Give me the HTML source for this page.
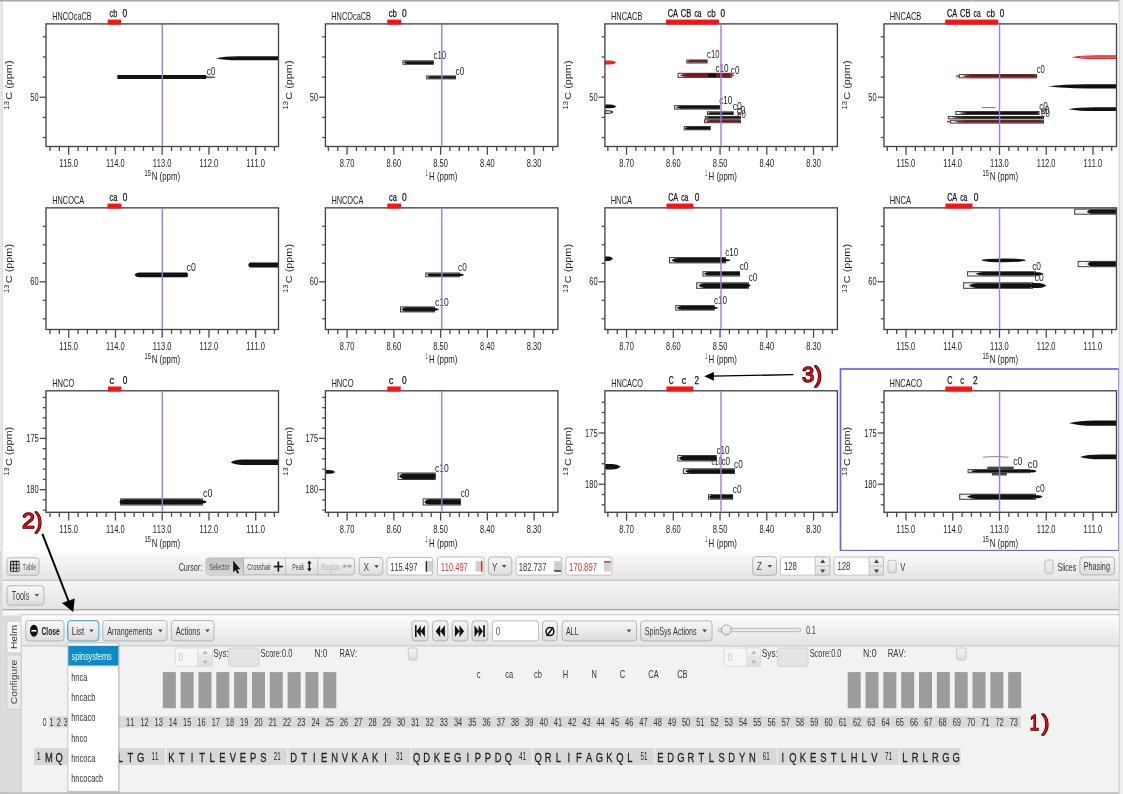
<!DOCTYPE html>
<html><head><meta charset="utf-8"><title>Spectra viewer</title>
<style>html,body{margin:0;padding:0;background:#fff;overflow:hidden}svg{display:block}text{font-family:'Liberation Sans', Arial, sans-serif;font-kerning:none}</style>
</head><body>
<svg width="1123" height="794" viewBox="0 0 1123 794" font-family="'Liberation Sans', Arial, sans-serif"><defs>
<linearGradient id="tb" x1="0" y1="0" x2="0" y2="1"><stop offset="0" stop-color="#fcfcfc"/><stop offset="1" stop-color="#e4e4e4"/></linearGradient>
<linearGradient id="tb2" x1="0" y1="0" x2="0" y2="1"><stop offset="0" stop-color="#f6f6f6"/><stop offset="1" stop-color="#e3e3e3"/></linearGradient>
<linearGradient id="btn" x1="0" y1="0" x2="0" y2="1"><stop offset="0" stop-color="#f8f8f8"/><stop offset="1" stop-color="#dcdcdc"/></linearGradient>
<linearGradient id="prs" x1="0" y1="0" x2="0" y2="1"><stop offset="0" stop-color="#c2c2c2"/><stop offset="1" stop-color="#d6d6d6"/></linearGradient>
<linearGradient id="chk" x1="0" y1="0" x2="0" y2="1"><stop offset="0" stop-color="#f4f4f4"/><stop offset="1" stop-color="#dedede"/></linearGradient>
</defs><rect x="0" y="0" width="1123" height="794" fill="#ffffff"/>
<text x="52.30" y="19.80" font-size="11" textLength="39.28" lengthAdjust="spacingAndGlyphs" fill="#222">HNCOcaCB</text>
<text x="109.59" y="17.30" font-size="10.6" textLength="7.72" lengthAdjust="spacingAndGlyphs" fill="#111" stroke="#111" stroke-width="0.25">cb</text>
<text x="122.47" y="17.30" font-size="10.6" textLength="4.65" lengthAdjust="spacingAndGlyphs" fill="#111" stroke="#111" stroke-width="0.25">0</text>
<text x="331.30" y="19.80" font-size="11" textLength="39.69" lengthAdjust="spacingAndGlyphs" fill="#222">HNCOcaCB</text>
<text x="388.67" y="17.30" font-size="10.6" textLength="8.15" lengthAdjust="spacingAndGlyphs" fill="#111" stroke="#111" stroke-width="0.25">cb</text>
<text x="402.07" y="17.30" font-size="10.6" textLength="4.65" lengthAdjust="spacingAndGlyphs" fill="#111" stroke="#111" stroke-width="0.25">0</text>
<text x="610.89" y="19.80" font-size="11" textLength="31.51" lengthAdjust="spacingAndGlyphs" fill="#222">HNCACB</text>
<text x="667.73" y="17.30" font-size="10.6" textLength="10.19" lengthAdjust="spacingAndGlyphs" fill="#111" stroke="#111" stroke-width="0.25">CA</text>
<text x="680.82" y="17.30" font-size="10.6" textLength="10.48" lengthAdjust="spacingAndGlyphs" fill="#111" stroke="#111" stroke-width="0.25">CB</text>
<text x="694.42" y="17.30" font-size="10.6" textLength="7.08" lengthAdjust="spacingAndGlyphs" fill="#111" stroke="#111" stroke-width="0.25">ca</text>
<text x="707.36" y="17.30" font-size="10.6" textLength="8.37" lengthAdjust="spacingAndGlyphs" fill="#111" stroke="#111" stroke-width="0.25">cb</text>
<text x="720.48" y="17.30" font-size="10.6" textLength="4.54" lengthAdjust="spacingAndGlyphs" fill="#111" stroke="#111" stroke-width="0.25">0</text>
<text x="889.69" y="19.80" font-size="11" textLength="31.61" lengthAdjust="spacingAndGlyphs" fill="#222">HNCACB</text>
<text x="946.93" y="17.30" font-size="10.6" textLength="10.19" lengthAdjust="spacingAndGlyphs" fill="#111" stroke="#111" stroke-width="0.25">CA</text>
<text x="960.02" y="17.30" font-size="10.6" textLength="10.48" lengthAdjust="spacingAndGlyphs" fill="#111" stroke="#111" stroke-width="0.25">CB</text>
<text x="973.62" y="17.30" font-size="10.6" textLength="7.08" lengthAdjust="spacingAndGlyphs" fill="#111" stroke="#111" stroke-width="0.25">ca</text>
<text x="986.56" y="17.30" font-size="10.6" textLength="8.37" lengthAdjust="spacingAndGlyphs" fill="#111" stroke="#111" stroke-width="0.25">cb</text>
<text x="999.68" y="17.30" font-size="10.6" textLength="4.54" lengthAdjust="spacingAndGlyphs" fill="#111" stroke="#111" stroke-width="0.25">0</text>
<text x="52.19" y="203.75" font-size="11" textLength="32.02" lengthAdjust="spacingAndGlyphs" fill="#222">HNCOCA</text>
<text x="109.49" y="201.25" font-size="10.6" textLength="7.81" lengthAdjust="spacingAndGlyphs" fill="#111" stroke="#111" stroke-width="0.25">ca</text>
<text x="122.67" y="201.25" font-size="10.6" textLength="4.65" lengthAdjust="spacingAndGlyphs" fill="#111" stroke="#111" stroke-width="0.25">0</text>
<text x="331.40" y="203.75" font-size="11" textLength="31.92" lengthAdjust="spacingAndGlyphs" fill="#222">HNCOCA</text>
<text x="388.99" y="201.25" font-size="10.6" textLength="7.81" lengthAdjust="spacingAndGlyphs" fill="#111" stroke="#111" stroke-width="0.25">ca</text>
<text x="401.97" y="201.25" font-size="10.6" textLength="4.65" lengthAdjust="spacingAndGlyphs" fill="#111" stroke="#111" stroke-width="0.25">0</text>
<text x="610.68" y="203.75" font-size="11" textLength="21.33" lengthAdjust="spacingAndGlyphs" fill="#222">HNCA</text>
<text x="668.13" y="201.25" font-size="10.6" textLength="10.08" lengthAdjust="spacingAndGlyphs" fill="#111" stroke="#111" stroke-width="0.25">CA</text>
<text x="681.22" y="201.25" font-size="10.6" textLength="7.08" lengthAdjust="spacingAndGlyphs" fill="#111" stroke="#111" stroke-width="0.25">ca</text>
<text x="694.87" y="201.25" font-size="10.6" textLength="4.65" lengthAdjust="spacingAndGlyphs" fill="#111" stroke="#111" stroke-width="0.25">0</text>
<text x="889.68" y="203.75" font-size="11" textLength="21.33" lengthAdjust="spacingAndGlyphs" fill="#222">HNCA</text>
<text x="947.13" y="201.25" font-size="10.6" textLength="10.08" lengthAdjust="spacingAndGlyphs" fill="#111" stroke="#111" stroke-width="0.25">CA</text>
<text x="960.22" y="201.25" font-size="10.6" textLength="7.08" lengthAdjust="spacingAndGlyphs" fill="#111" stroke="#111" stroke-width="0.25">ca</text>
<text x="973.87" y="201.25" font-size="10.6" textLength="4.65" lengthAdjust="spacingAndGlyphs" fill="#111" stroke="#111" stroke-width="0.25">0</text>
<text x="52.18" y="386.70" font-size="11" textLength="22.18" lengthAdjust="spacingAndGlyphs" fill="#222">HNCO</text>
<text x="109.41" y="384.20" font-size="10.6" textLength="4.64" lengthAdjust="spacingAndGlyphs" fill="#111" stroke="#111" stroke-width="0.25">c</text>
<text x="122.67" y="384.20" font-size="10.6" textLength="4.65" lengthAdjust="spacingAndGlyphs" fill="#111" stroke="#111" stroke-width="0.25">0</text>
<text x="331.38" y="386.70" font-size="11" textLength="22.18" lengthAdjust="spacingAndGlyphs" fill="#222">HNCO</text>
<text x="388.71" y="384.20" font-size="10.6" textLength="4.64" lengthAdjust="spacingAndGlyphs" fill="#111" stroke="#111" stroke-width="0.25">c</text>
<text x="401.97" y="384.20" font-size="10.6" textLength="4.65" lengthAdjust="spacingAndGlyphs" fill="#111" stroke="#111" stroke-width="0.25">0</text>
<text x="611.20" y="386.70" font-size="11" textLength="31.85" lengthAdjust="spacingAndGlyphs" fill="#222">HNCACO</text>
<text x="668.66" y="384.20" font-size="10.6" textLength="4.90" lengthAdjust="spacingAndGlyphs" fill="#111" stroke="#111" stroke-width="0.25">C</text>
<text x="681.73" y="384.20" font-size="10.6" textLength="4.41" lengthAdjust="spacingAndGlyphs" fill="#111" stroke="#111" stroke-width="0.25">c</text>
<text x="694.59" y="384.20" font-size="10.6" textLength="4.52" lengthAdjust="spacingAndGlyphs" fill="#111" stroke="#111" stroke-width="0.25">2</text>
<text x="889.59" y="386.70" font-size="11" textLength="32.37" lengthAdjust="spacingAndGlyphs" fill="#222">HNCACO</text>
<text x="947.33" y="384.20" font-size="10.6" textLength="5.25" lengthAdjust="spacingAndGlyphs" fill="#111" stroke="#111" stroke-width="0.25">C</text>
<text x="960.17" y="384.20" font-size="10.6" textLength="3.83" lengthAdjust="spacingAndGlyphs" fill="#111" stroke="#111" stroke-width="0.25">c</text>
<text x="973.08" y="384.20" font-size="10.6" textLength="4.64" lengthAdjust="spacingAndGlyphs" fill="#111" stroke="#111" stroke-width="0.25">2</text>
<path d="M117.30,75.10 L205.20,75.10 Q206.50,75.10 207.20,77.10 Q206.50,79.10 205.20,79.10 L117.30,79.10Z" fill="#121212"/>
<path d="M206.50,76.30 L211.00,76.30 Q214.25,76.30 216.00,77.30 Q214.25,78.30 211.00,78.30 L206.50,78.30Z" fill="#666"/>
<path d="M216.00,58.20 Q223.70,56.20 238.00,56.20 L278.50,56.20 L278.50,60.20 L238.00,60.20 Q223.70,60.20 216.00,58.20Z" fill="#121212"/>
<text x="206.65" y="75.10" font-size="11.0" textLength="8.67" lengthAdjust="spacingAndGlyphs" fill="#222">c0</text>
<rect x="402.90" y="60.80" width="30.40" height="3.50" fill="#f4f4f4" stroke="#3a3a3a" stroke-width="1"/>
<path d="M403.66,62.55 Q405.38,61.20 407.11,61.20 L432.54,61.20 Q433.50,61.20 433.50,62.55 Q433.50,63.90 432.54,63.90 L407.11,63.90 Q405.38,63.90 403.66,62.55Z" fill="#121212"/>
<text x="433.47" y="59.00" font-size="11.0" textLength="12.64" lengthAdjust="spacingAndGlyphs" fill="#222">c10</text>
<rect x="426.70" y="75.90" width="28.70" height="3.00" fill="#f4f4f4" stroke="#3a3a3a" stroke-width="1"/>
<path d="M427.39,77.40 Q429.02,76.30 430.65,76.30 L454.71,76.30 Q455.60,76.30 455.60,77.40 Q455.60,78.50 454.71,78.50 L430.65,78.50 Q429.02,78.50 427.39,77.40Z" fill="#121212"/>
<text x="455.55" y="74.80" font-size="11.0" textLength="8.67" lengthAdjust="spacingAndGlyphs" fill="#222">c0</text>
<path d="M616.50,62.50 Q613.97,60.50 610.17,60.50 L605.00,60.50 L605.00,64.50 L610.17,64.50 Q613.97,64.50 616.50,62.50Z" fill="#ee2222"/>
<path d="M616.50,106.40 Q613.97,104.50 610.17,104.50 L605.00,104.50 L605.00,108.30 L610.17,108.30 Q613.97,108.30 616.50,106.40Z" fill="#111"/>
<path d="M613.00,112.05 Q611.24,110.80 608.60,110.80 L605.00,110.80 L605.00,113.30 L608.60,113.30 Q611.24,113.30 613.00,112.05Z" fill="none" stroke="#111" stroke-width="1"/>
<rect x="686.80" y="60.00" width="20.30" height="3.00" fill="#f4f4f4" stroke="#3a3a3a" stroke-width="1"/>
<path d="M687.15,61.50 Q688.32,60.40 689.49,60.40 L706.75,60.40 Q707.30,60.40 707.30,61.50 Q707.30,62.60 706.75,62.60 L689.49,62.60 Q688.32,62.60 687.15,61.50Z" fill="#8e1212"/>
<path d="M689.49,60.40 L706.75,60.40" stroke="#222" stroke-width="0.6"/>
<text x="707.07" y="58.20" font-size="11.0" textLength="12.43" lengthAdjust="spacingAndGlyphs" fill="#222">c10</text>
<rect x="678.10" y="73.30" width="53.10" height="4.10" fill="#f4f4f4" stroke="#3a3a3a" stroke-width="1"/>
<path d="M679.76,75.35 Q682.74,73.70 685.72,73.70 L729.54,73.70 Q731.40,73.70 731.40,75.35 Q731.40,77.00 729.54,77.00 L685.72,77.00 Q682.74,77.00 679.76,75.35Z" fill="#8e1212"/>
<path d="M685.72,73.70 L729.54,73.70" stroke="#222" stroke-width="0.6"/>
<rect x="708.00" y="73.50" width="8.00" height="3.70" fill="#111"/>
<path d="M734.30,75.40 Q733.57,74.30 732.49,74.30 L731.00,74.30 L731.00,76.50 L732.49,76.50 Q733.57,76.50 734.30,75.40Z" fill="#ee2222"/>
<text x="715.45" y="71.80" font-size="11.0" textLength="13.17" lengthAdjust="spacingAndGlyphs" fill="#222">c10</text>
<text x="730.86" y="73.50" font-size="11.0" textLength="8.56" lengthAdjust="spacingAndGlyphs" fill="#222">c0</text>
<rect x="674.70" y="105.60" width="44.90" height="3.50" fill="#f4f4f4" stroke="#3a3a3a" stroke-width="1"/>
<path d="M676.04,107.35 Q678.56,106.00 681.09,106.00 L718.26,106.00 Q719.80,106.00 719.80,107.35 Q719.80,108.70 718.26,108.70 L681.09,108.70 Q678.56,108.70 676.04,107.35Z" fill="#121212"/>
<text x="719.15" y="104.10" font-size="11.0" textLength="13.17" lengthAdjust="spacingAndGlyphs" fill="#222">c10</text>
<rect x="707.50" y="111.80" width="25.70" height="2.70" fill="#f4f4f4" stroke="#3a3a3a" stroke-width="1"/>
<path d="M708.07,113.15 Q709.54,112.20 711.00,112.20 L732.63,112.20 Q733.40,112.20 733.40,113.15 Q733.40,114.10 732.63,114.10 L711.00,114.10 Q709.54,114.10 708.07,113.15Z" fill="#121212"/>
<text x="732.63" y="109.80" font-size="11.0" textLength="9.10" lengthAdjust="spacingAndGlyphs" fill="#222">c0</text>
<rect x="705.30" y="116.40" width="35.20" height="2.00" fill="#f4f4f4" stroke="#3a3a3a" stroke-width="1"/>
<path d="M706.25,117.40 Q708.24,116.80 710.23,116.80 L739.55,116.80 Q740.70,116.80 740.70,117.40 Q740.70,118.00 739.55,118.00 L710.23,118.00 Q708.24,118.00 706.25,117.40Z" fill="#121212"/>
<rect x="704.50" y="119.80" width="36.00" height="2.90" fill="#f4f4f4" stroke="#3a3a3a" stroke-width="1"/>
<path d="M705.48,121.25 Q707.52,120.20 709.55,120.20 L739.52,120.20 Q740.70,120.20 740.70,121.25 Q740.70,122.30 739.52,122.30 L709.55,122.30 Q707.52,122.30 705.48,121.25Z" fill="#8e1212"/>
<path d="M709.55,120.20 L739.52,120.20" stroke="#222" stroke-width="0.6"/>
<text x="736.65" y="114.30" font-size="11.0" textLength="8.67" lengthAdjust="spacingAndGlyphs" fill="#222">c0</text>
<text x="737.17" y="117.70" font-size="11.0" textLength="8.63" lengthAdjust="spacingAndGlyphs" fill="#222">e0</text>
<rect x="684.30" y="126.50" width="25.90" height="3.30" fill="#f4f4f4" stroke="#3a3a3a" stroke-width="1"/>
<path d="M684.88,128.15 Q686.36,126.90 687.84,126.90 L709.62,126.90 Q710.40,126.90 710.40,128.15 Q710.40,129.40 709.62,129.40 L687.84,129.40 Q686.36,129.40 684.88,128.15Z" fill="#121212"/>
<path d="M1071.60,57.15 Q1081.37,55.30 1096.02,55.30 L1116.00,55.30 L1116.00,59.00 L1096.02,59.00 Q1081.37,59.00 1071.60,57.15Z" fill="#f02020"/>
<line x1="1080.00" y1="57.15" x2="1116.00" y2="57.15" stroke="#f7a0a0" stroke-width="0.8"/>
<rect x="959.50" y="74.60" width="77.00" height="3.30" fill="#f4f4f4" stroke="#3a3a3a" stroke-width="1"/>
<path d="M962.12,76.25 Q966.41,75.00 970.70,75.00 L1033.88,75.00 Q1036.70,75.00 1036.70,76.25 Q1036.70,77.50 1033.88,77.50 L970.70,77.50 Q966.41,77.50 962.12,76.25Z" fill="#8e1212"/>
<path d="M970.70,75.00 L1033.88,75.00" stroke="#222" stroke-width="0.6"/>
<path d="M955.30,76.25 Q956.33,75.30 957.88,75.30 L960.00,75.30 L960.00,77.20 L957.88,77.20 Q956.33,77.20 955.30,76.25Z" fill="#ee2222"/>
<text x="1036.67" y="73.30" font-size="11.0" textLength="8.13" lengthAdjust="spacingAndGlyphs" fill="#222">c0</text>
<path d="M1048.30,86.30 Q1063.19,84.20 1085.54,84.20 L1116.00,84.20 L1116.00,88.40 L1085.54,88.40 Q1063.19,88.40 1048.30,86.30Z" fill="#111"/>
<path d="M1068.40,109.15 Q1078.87,107.30 1094.58,107.30 L1116.00,107.30 L1116.00,111.00 L1094.58,111.00 Q1078.87,111.00 1068.40,109.15Z" fill="#111"/>
<line x1="981.70" y1="107.60" x2="995.50" y2="107.60" stroke="#777" stroke-width="1"/>
<rect x="955.80" y="111.50" width="83.20" height="3.00" fill="#f4f4f4" stroke="#3a3a3a" stroke-width="1"/>
<path d="M958.67,113.00 Q963.30,111.90 967.93,111.90 L1036.13,111.90 Q1039.20,111.90 1039.20,113.00 Q1039.20,114.10 1036.13,114.10 L967.93,114.10 Q963.30,114.10 958.67,113.00Z" fill="#121212"/>
<rect x="948.30" y="116.50" width="95.20" height="2.30" fill="#f4f4f4" stroke="#3a3a3a" stroke-width="1"/>
<path d="M951.65,117.65 Q956.94,116.90 962.23,116.90 L1040.15,116.90 Q1043.70,116.90 1043.70,117.65 Q1043.70,118.40 1040.15,118.40 L962.23,118.40 Q956.94,118.40 951.65,117.65Z" fill="#121212"/>
<rect x="950.50" y="120.30" width="93.00" height="2.80" fill="#f4f4f4" stroke="#3a3a3a" stroke-width="1"/>
<path d="M953.76,121.70 Q958.93,120.70 964.10,120.70 L1040.24,120.70 Q1043.70,120.70 1043.70,121.70 Q1043.70,122.70 1040.24,122.70 L964.10,122.70 Q958.93,122.70 953.76,121.70Z" fill="#8e1212"/>
<path d="M964.10,120.70 L1040.24,120.70" stroke="#222" stroke-width="0.6"/>
<path d="M946.50,121.70 Q947.49,120.80 948.98,120.80 L951.00,120.80 L951.00,122.60 L948.98,122.60 Q947.49,122.60 946.50,121.70Z" fill="#ee2222"/>
<text x="1039.15" y="110.00" font-size="11.0" textLength="8.67" lengthAdjust="spacingAndGlyphs" fill="#222">c0</text>
<text x="1040.67" y="114.00" font-size="11.0" textLength="8.63" lengthAdjust="spacingAndGlyphs" fill="#222">e0</text>
<text x="1041.17" y="117.00" font-size="11.0" textLength="8.63" lengthAdjust="spacingAndGlyphs" fill="#222">e0</text>
<path d="M134.40,274.90 Q136.15,272.60 139.40,272.60 L187.00,272.60 Q187.65,272.60 188.00,274.90 Q187.65,277.20 187.00,277.20 L139.40,277.20 Q136.15,277.20 134.40,274.90Z" fill="#121212"/>
<text x="186.63" y="270.50" font-size="11.0" textLength="9.21" lengthAdjust="spacingAndGlyphs" fill="#222">c0</text>
<path d="M248.20,264.90 Q248.90,262.40 250.20,262.40 L278.50,262.40 L278.50,267.40 L250.20,267.40 Q248.90,267.40 248.20,264.90Z" fill="#121212"/>
<rect x="425.70" y="273.00" width="33.80" height="3.70" fill="#f4f4f4" stroke="#3a3a3a" stroke-width="1"/>
<path d="M426.59,274.85 Q428.51,273.40 430.42,273.40 L458.61,273.40 Q459.70,273.40 459.70,274.85 Q459.70,276.30 458.61,276.30 L430.42,276.30 Q428.51,276.30 426.59,274.85Z" fill="#121212"/>
<path d="M464.00,274.90 Q462.90,273.80 461.25,273.80 L459.00,273.80 L459.00,276.00 L461.25,276.00 Q462.90,276.00 464.00,274.90Z" fill="#111"/>
<text x="458.05" y="271.20" font-size="11.0" textLength="8.67" lengthAdjust="spacingAndGlyphs" fill="#222">c0</text>
<rect x="400.50" y="306.90" width="34.00" height="5.00" fill="#f4f4f4" stroke="#3a3a3a" stroke-width="1"/>
<path d="M401.40,309.40 Q403.32,307.30 405.25,307.30 L433.60,307.30 Q434.70,307.30 434.70,309.40 Q434.70,311.50 433.60,311.50 L405.25,311.50 Q403.32,311.50 401.40,309.40Z" fill="#121212"/>
<path d="M438.80,309.40 Q437.74,308.30 436.16,308.30 L434.00,308.30 L434.00,310.50 L436.16,310.50 Q437.74,310.50 438.80,309.40Z" fill="#111"/>
<text x="434.94" y="305.50" font-size="11.0" textLength="13.69" lengthAdjust="spacingAndGlyphs" fill="#222">c10</text>
<path d="M613.00,258.75 Q611.24,256.60 608.60,256.60 L605.00,256.60 L605.00,260.90 L608.60,260.90 Q611.24,260.90 613.00,258.75Z" fill="#111"/>
<rect x="669.50" y="257.60" width="56.00" height="5.30" fill="#f4f4f4" stroke="#3a3a3a" stroke-width="1"/>
<path d="M671.28,260.25 Q674.41,258.00 677.55,258.00 L723.72,258.00 Q725.70,258.00 725.70,260.25 Q725.70,262.50 723.72,262.50 L677.55,262.50 Q674.41,262.50 671.28,260.25Z" fill="#121212"/>
<path d="M730.60,260.25 Q729.37,259.20 727.52,259.20 L725.00,259.20 L725.00,261.30 L727.52,261.30 Q729.37,261.30 730.60,260.25Z" fill="#111"/>
<text x="725.26" y="255.80" font-size="11.0" textLength="13.06" lengthAdjust="spacingAndGlyphs" fill="#222">c10</text>
<rect x="703.00" y="271.70" width="36.60" height="4.30" fill="#f4f4f4" stroke="#3a3a3a" stroke-width="1"/>
<path d="M704.00,273.85 Q706.07,272.10 708.14,272.10 L738.60,272.10 Q739.80,272.10 739.80,273.85 Q739.80,275.60 738.60,275.60 L708.14,275.60 Q706.07,275.60 704.00,273.85Z" fill="#121212"/>
<text x="739.65" y="269.90" font-size="11.0" textLength="8.67" lengthAdjust="spacingAndGlyphs" fill="#222">c0</text>
<rect x="696.70" y="282.80" width="51.80" height="5.50" fill="#f4f4f4" stroke="#3a3a3a" stroke-width="1"/>
<path d="M698.31,285.55 Q701.22,283.20 704.12,283.20 L746.89,283.20 Q748.70,283.20 748.70,285.55 Q748.70,287.90 746.89,287.90 L704.12,287.90 Q701.22,287.90 698.31,285.55Z" fill="#121212"/>
<path d="M750.70,285.55 Q750.11,284.50 749.22,284.50 L748.00,284.50 L748.00,286.60 L749.22,286.60 Q750.11,286.60 750.70,285.55Z" fill="#111"/>
<text x="748.65" y="281.20" font-size="11.0" textLength="8.67" lengthAdjust="spacingAndGlyphs" fill="#222">c0</text>
<rect x="675.80" y="305.60" width="38.50" height="4.50" fill="#f4f4f4" stroke="#3a3a3a" stroke-width="1"/>
<path d="M676.88,307.85 Q679.05,306.00 681.23,306.00 L713.22,306.00 Q714.50,306.00 714.50,307.85 Q714.50,309.70 713.22,309.70 L681.23,309.70 Q679.05,309.70 676.88,307.85Z" fill="#121212"/>
<path d="M718.00,307.90 Q717.12,307.00 715.80,307.00 L714.00,307.00 L714.00,308.80 L715.80,308.80 Q717.12,308.80 718.00,307.90Z" fill="#111"/>
<text x="713.95" y="303.50" font-size="11.0" textLength="13.17" lengthAdjust="spacingAndGlyphs" fill="#222">c10</text>
<rect x="1074.70" y="209.10" width="40.80" height="5.10" fill="#f4f4f4" stroke="#3a3a3a" stroke-width="1"/>
<path d="M1086.74,211.65 Q1089.04,209.50 1091.34,209.50 L1114.33,209.50 Q1115.70,209.50 1115.70,211.65 Q1115.70,213.80 1114.33,213.80 L1091.34,213.80 Q1089.04,213.80 1086.74,211.65Z" fill="#121212"/>
<ellipse cx="1003.70" cy="260.30" rx="22.00" ry="1.90" fill="#111"/>
<rect x="1078.20" y="261.40" width="37.30" height="5.30" fill="#f4f4f4" stroke="#3a3a3a" stroke-width="1"/>
<path d="M1087.28,264.05 Q1089.38,261.80 1091.49,261.80 L1114.47,261.80 Q1115.70,261.80 1115.70,264.05 Q1115.70,266.30 1114.47,266.30 L1091.49,266.30 Q1089.38,266.30 1087.28,264.05Z" fill="#121212"/>
<rect x="967.60" y="271.70" width="67.90" height="4.30" fill="#f4f4f4" stroke="#3a3a3a" stroke-width="1"/>
<path d="M975.37,273.85 Q979.16,272.10 982.95,272.10 L1033.24,272.10 Q1035.70,272.10 1035.70,273.85 Q1035.70,275.60 1033.24,275.60 L982.95,275.60 Q979.16,275.60 975.37,273.85Z" fill="#121212"/>
<path d="M1043.30,273.85 Q1041.47,272.30 1038.73,272.30 L1035.00,272.30 L1035.00,275.40 L1038.73,275.40 Q1041.47,275.40 1043.30,273.85Z" fill="#111"/>
<text x="1032.14" y="269.90" font-size="11.0" textLength="8.89" lengthAdjust="spacingAndGlyphs" fill="#222">c0</text>
<rect x="963.60" y="282.80" width="68.90" height="5.50" fill="#f4f4f4" stroke="#3a3a3a" stroke-width="1"/>
<path d="M968.69,285.55 Q972.54,283.20 976.38,283.20 L1030.20,283.20 Q1032.70,283.20 1032.70,285.55 Q1032.70,287.90 1030.20,287.90 L976.38,287.90 Q972.54,287.90 968.69,285.55Z" fill="#121212"/>
<path d="M1046.50,285.50 Q1043.31,283.00 1038.53,283.00 L1032.00,283.00 L1032.00,288.00 L1038.53,288.00 Q1043.31,288.00 1046.50,285.50Z" fill="#111"/>
<text x="1034.64" y="281.20" font-size="11.0" textLength="8.99" lengthAdjust="spacingAndGlyphs" fill="#222">c0</text>
<path d="M230.70,462.30 Q234.90,459.60 242.70,459.60 L278.50,459.60 L278.50,465.00 L242.70,465.00 Q234.90,465.00 230.70,462.30Z" fill="#121212"/>
<rect x="120.50" y="498.90" width="82.00" height="6.10" fill="#f4f4f4" stroke="#3a3a3a" stroke-width="1"/>
<path d="M119.17,501.95 Q121.25,499.30 123.32,499.30 L199.68,499.30 Q202.70,499.30 202.70,501.95 Q202.70,504.60 199.68,504.60 L123.32,504.60 Q121.25,504.60 119.17,501.95Z" fill="#121212"/>
<path d="M206.50,501.90 Q205.51,500.50 204.03,500.50 L202.00,500.50 L202.00,503.30 L204.03,503.30 Q205.51,503.30 206.50,501.90Z" fill="#111"/>
<text x="203.12" y="497.10" font-size="11.0" textLength="9.54" lengthAdjust="spacingAndGlyphs" fill="#222">c0</text>
<path d="M335.30,471.90 Q333.08,470.00 329.75,470.00 L325.20,470.00 L325.20,473.80 L329.75,473.80 Q333.08,473.80 335.30,471.90Z" fill="#111"/>
<rect x="398.10" y="473.00" width="37.20" height="6.50" fill="#f4f4f4" stroke="#3a3a3a" stroke-width="1"/>
<path d="M399.13,476.25 Q401.23,473.40 403.33,473.40 L434.27,473.40 Q435.50,473.40 435.50,476.25 Q435.50,479.10 434.27,479.10 L403.33,479.10 Q401.23,479.10 399.13,476.25Z" fill="#121212"/>
<text x="434.94" y="471.50" font-size="11.0" textLength="13.69" lengthAdjust="spacingAndGlyphs" fill="#222">c10</text>
<rect x="423.20" y="498.90" width="37.20" height="6.10" fill="#f4f4f4" stroke="#3a3a3a" stroke-width="1"/>
<path d="M424.23,501.95 Q426.33,499.30 428.43,499.30 L459.37,499.30 Q460.60,499.30 460.60,501.95 Q460.60,504.60 459.37,504.60 L428.43,504.60 Q426.33,504.60 424.23,501.95Z" fill="#121212"/>
<text x="460.65" y="497.10" font-size="11.0" textLength="8.67" lengthAdjust="spacingAndGlyphs" fill="#222">c0</text>
<path d="M620.80,466.75 Q617.37,464.00 612.22,464.00 L605.20,464.00 L605.20,469.50 L612.22,469.50 Q617.37,469.50 620.80,466.75Z" fill="#111"/>
<rect x="677.80" y="455.50" width="38.50" height="5.50" fill="#f4f4f4" stroke="#3a3a3a" stroke-width="1"/>
<path d="M678.88,458.25 Q681.05,455.90 683.23,455.90 L715.22,455.90 Q716.50,455.90 716.50,458.25 Q716.50,460.60 715.22,460.60 L683.23,460.60 Q681.05,460.60 678.88,458.25Z" fill="#121212"/>
<text x="716.45" y="453.90" font-size="11.0" textLength="13.17" lengthAdjust="spacingAndGlyphs" fill="#222">c10</text>
<rect x="683.40" y="468.80" width="51.00" height="4.70" fill="#f4f4f4" stroke="#3a3a3a" stroke-width="1"/>
<path d="M684.98,471.15 Q687.84,469.20 690.70,469.20 L732.82,469.20 Q734.60,469.20 734.60,471.15 Q734.60,473.10 732.82,473.10 L690.70,473.10 Q687.84,473.10 684.98,471.15Z" fill="#121212"/>
<text x="711.52" y="465.00" font-size="11.0" textLength="10.53" lengthAdjust="spacingAndGlyphs" fill="#222">c10</text>
<text x="721.45" y="465.00" font-size="11.0" textLength="8.67" lengthAdjust="spacingAndGlyphs" fill="#222">c0</text>
<text x="734.05" y="467.50" font-size="11.0" textLength="8.67" lengthAdjust="spacingAndGlyphs" fill="#222">c0</text>
<rect x="708.50" y="494.70" width="24.10" height="4.50" fill="#f4f4f4" stroke="#3a3a3a" stroke-width="1"/>
<path d="M709.00,496.95 Q710.38,495.10 711.76,495.10 L732.10,495.10 Q732.80,495.10 732.80,496.95 Q732.80,498.80 732.10,498.80 L711.76,498.80 Q710.38,498.80 709.00,496.95Z" fill="#121212"/>
<text x="732.75" y="492.90" font-size="11.0" textLength="8.78" lengthAdjust="spacingAndGlyphs" fill="#222">c0</text>
<path d="M1069.00,423.15 Q1079.34,420.60 1094.85,420.60 L1116.00,420.60 L1116.00,425.70 L1094.85,425.70 Q1079.34,425.70 1069.00,423.15Z" fill="#111"/>
<path d="M1080.00,456.90 Q1087.92,454.60 1099.80,454.60 L1116.00,454.60 L1116.00,459.20 L1099.80,459.20 Q1087.92,459.20 1080.00,456.90Z" fill="#111"/>
<path d="M983,457.2 Q996,455.8 1008.5,457.2" fill="none" stroke="#888" stroke-width="1"/>
<rect x="987.80" y="467.10" width="25.30" height="1.40" fill="#f4f4f4" stroke="#3a3a3a" stroke-width="1"/>
<path d="M988.35,467.80 Q989.80,467.50 991.25,467.50 L1012.55,467.50 Q1013.30,467.50 1013.30,467.80 Q1013.30,468.10 1012.55,468.10 L991.25,468.10 Q989.80,468.10 988.35,467.80Z" fill="#121212"/>
<rect x="968.10" y="469.60" width="61.40" height="3.10" fill="#f4f4f4" stroke="#3a3a3a" stroke-width="1"/>
<path d="M970.10,471.15 Q973.53,470.00 976.96,470.00 L1027.50,470.00 Q1029.70,470.00 1029.70,471.15 Q1029.70,472.30 1027.50,472.30 L976.96,472.30 Q973.53,472.30 970.10,471.15Z" fill="#121212"/>
<path d="M1036.60,471.20 Q1034.93,469.80 1032.42,469.80 L1029.00,469.80 L1029.00,472.60 L1032.42,472.60 Q1034.93,472.60 1036.60,471.20Z" fill="#111"/>
<rect x="992.40" y="473.50" width="13.80" height="1.50" fill="#f4f4f4" stroke="#3a3a3a" stroke-width="1"/>
<path d="M992.49,474.25 Q993.31,473.90 994.12,473.90 L1006.11,473.90 Q1006.40,473.90 1006.40,474.25 Q1006.40,474.60 1006.11,474.60 L994.12,474.60 Q993.31,474.60 992.49,474.25Z" fill="#121212"/>
<text x="1013.23" y="465.40" font-size="11.0" textLength="9.10" lengthAdjust="spacingAndGlyphs" fill="#222">c0</text>
<text x="1027.80" y="467.90" font-size="11.0" textLength="9.97" lengthAdjust="spacingAndGlyphs" fill="#222">c0</text>
<rect x="959.70" y="494.20" width="75.80" height="5.10" fill="#f4f4f4" stroke="#3a3a3a" stroke-width="1"/>
<path d="M966.88,496.75 Q971.10,494.60 975.33,494.60 L1032.93,494.60 Q1035.70,494.60 1035.70,496.75 Q1035.70,498.90 1032.93,498.90 L975.33,498.90 Q971.10,498.90 966.88,496.75Z" fill="#121212"/>
<path d="M1042.50,496.75 Q1040.85,495.30 1038.38,495.30 L1035.00,495.30 L1035.00,498.20 L1038.38,498.20 Q1040.85,498.20 1042.50,496.75Z" fill="#111"/>
<text x="1035.74" y="492.20" font-size="11.0" textLength="8.89" lengthAdjust="spacingAndGlyphs" fill="#222">c0</text>
<line x1="162.30" y1="24.70" x2="162.30" y2="145.70" stroke="#a874ee" stroke-width="1.4"/>
<line x1="441.80" y1="24.70" x2="441.80" y2="145.70" stroke="#a874ee" stroke-width="1.4"/>
<line x1="721.00" y1="24.70" x2="721.00" y2="145.70" stroke="#a874ee" stroke-width="1.4"/>
<line x1="999.55" y1="24.70" x2="999.55" y2="145.70" stroke="#a874ee" stroke-width="1.4"/>
<line x1="162.30" y1="208.65" x2="162.30" y2="328.70" stroke="#a874ee" stroke-width="1.4"/>
<line x1="441.80" y1="208.65" x2="441.80" y2="328.70" stroke="#a874ee" stroke-width="1.4"/>
<line x1="721.00" y1="208.65" x2="721.00" y2="328.70" stroke="#a874ee" stroke-width="1.4"/>
<line x1="999.55" y1="208.65" x2="999.55" y2="328.70" stroke="#a874ee" stroke-width="1.4"/>
<line x1="162.30" y1="391.60" x2="162.30" y2="511.50" stroke="#a874ee" stroke-width="1.4"/>
<line x1="441.80" y1="391.60" x2="441.80" y2="511.50" stroke="#a874ee" stroke-width="1.4"/>
<line x1="721.00" y1="391.60" x2="721.00" y2="511.50" stroke="#a874ee" stroke-width="1.4"/>
<line x1="999.55" y1="391.60" x2="999.55" y2="511.50" stroke="#a874ee" stroke-width="1.4"/>
<rect x="46.00" y="23.90" width="232.5" height="122.6" fill="none" stroke="#444444" stroke-width="1.35"/>
<rect x="107.70" y="19.60" width="13.30" height="5.00" fill="#ff1111"/>
<line x1="50.00" y1="146.50" x2="50.00" y2="151.10" stroke="#4a4a4a" stroke-width="1.3"/>
<line x1="59.35" y1="146.50" x2="59.35" y2="151.10" stroke="#4a4a4a" stroke-width="1.3"/>
<line x1="68.70" y1="146.50" x2="68.70" y2="154.80" stroke="#4a4a4a" stroke-width="1.3"/>
<line x1="78.05" y1="146.50" x2="78.05" y2="151.10" stroke="#4a4a4a" stroke-width="1.3"/>
<line x1="87.40" y1="146.50" x2="87.40" y2="151.10" stroke="#4a4a4a" stroke-width="1.3"/>
<line x1="96.75" y1="146.50" x2="96.75" y2="151.10" stroke="#4a4a4a" stroke-width="1.3"/>
<line x1="106.10" y1="146.50" x2="106.10" y2="151.10" stroke="#4a4a4a" stroke-width="1.3"/>
<line x1="115.45" y1="146.50" x2="115.45" y2="154.80" stroke="#4a4a4a" stroke-width="1.3"/>
<line x1="124.80" y1="146.50" x2="124.80" y2="151.10" stroke="#4a4a4a" stroke-width="1.3"/>
<line x1="134.15" y1="146.50" x2="134.15" y2="151.10" stroke="#4a4a4a" stroke-width="1.3"/>
<line x1="143.50" y1="146.50" x2="143.50" y2="151.10" stroke="#4a4a4a" stroke-width="1.3"/>
<line x1="152.85" y1="146.50" x2="152.85" y2="151.10" stroke="#4a4a4a" stroke-width="1.3"/>
<line x1="162.20" y1="146.50" x2="162.20" y2="154.80" stroke="#4a4a4a" stroke-width="1.3"/>
<line x1="171.55" y1="146.50" x2="171.55" y2="151.10" stroke="#4a4a4a" stroke-width="1.3"/>
<line x1="180.90" y1="146.50" x2="180.90" y2="151.10" stroke="#4a4a4a" stroke-width="1.3"/>
<line x1="190.25" y1="146.50" x2="190.25" y2="151.10" stroke="#4a4a4a" stroke-width="1.3"/>
<line x1="199.60" y1="146.50" x2="199.60" y2="151.10" stroke="#4a4a4a" stroke-width="1.3"/>
<line x1="208.95" y1="146.50" x2="208.95" y2="154.80" stroke="#4a4a4a" stroke-width="1.3"/>
<line x1="218.30" y1="146.50" x2="218.30" y2="151.10" stroke="#4a4a4a" stroke-width="1.3"/>
<line x1="227.65" y1="146.50" x2="227.65" y2="151.10" stroke="#4a4a4a" stroke-width="1.3"/>
<line x1="237.00" y1="146.50" x2="237.00" y2="151.10" stroke="#4a4a4a" stroke-width="1.3"/>
<line x1="246.35" y1="146.50" x2="246.35" y2="151.10" stroke="#4a4a4a" stroke-width="1.3"/>
<line x1="255.70" y1="146.50" x2="255.70" y2="154.80" stroke="#4a4a4a" stroke-width="1.3"/>
<line x1="265.05" y1="146.50" x2="265.05" y2="151.10" stroke="#4a4a4a" stroke-width="1.3"/>
<line x1="274.40" y1="146.50" x2="274.40" y2="151.10" stroke="#4a4a4a" stroke-width="1.3"/>
<text x="59.19" y="166.60" font-size="10.4" textLength="18.74" lengthAdjust="spacingAndGlyphs" fill="#222">115.0</text>
<text x="105.94" y="166.60" font-size="10.4" textLength="18.74" lengthAdjust="spacingAndGlyphs" fill="#222">114.0</text>
<text x="152.69" y="166.60" font-size="10.4" textLength="18.74" lengthAdjust="spacingAndGlyphs" fill="#222">113.0</text>
<text x="199.44" y="166.60" font-size="10.4" textLength="18.74" lengthAdjust="spacingAndGlyphs" fill="#222">112.0</text>
<text x="246.19" y="166.60" font-size="10.4" textLength="18.74" lengthAdjust="spacingAndGlyphs" fill="#222">111.0</text>
<text x="144.61" y="175.60" font-size="8.5" textLength="6.38" lengthAdjust="spacingAndGlyphs" fill="#222">15</text>
<text x="151.70" y="179.90" font-size="10.6" textLength="28.43" lengthAdjust="spacingAndGlyphs" fill="#222">N (ppm)</text>
<line x1="42.80" y1="36.79" x2="46.00" y2="36.79" stroke="#4a4a4a" stroke-width="1.3"/>
<line x1="42.80" y1="56.94" x2="46.00" y2="56.94" stroke="#4a4a4a" stroke-width="1.3"/>
<line x1="42.80" y1="77.09" x2="46.00" y2="77.09" stroke="#4a4a4a" stroke-width="1.3"/>
<line x1="39.70" y1="97.24" x2="46.00" y2="97.24" stroke="#4a4a4a" stroke-width="1.3"/>
<line x1="42.80" y1="117.39" x2="46.00" y2="117.39" stroke="#4a4a4a" stroke-width="1.3"/>
<line x1="42.80" y1="137.54" x2="46.00" y2="137.54" stroke="#4a4a4a" stroke-width="1.3"/>
<text x="30.36" y="100.74" font-size="10.4" textLength="8.33" lengthAdjust="spacingAndGlyphs" fill="#222">50</text>
<g transform="translate(12.40,85.20) rotate(-90)">
<text x="-24.23" y="-3.50" font-size="6.9" textLength="8.41" lengthAdjust="spacingAndGlyphs" fill="#222">13</text>
<text x="-14.50" y="0.00" font-size="9.0" textLength="39.23" lengthAdjust="spacingAndGlyphs" fill="#1a1a1a">C (ppm)</text>
</g>
<rect x="325.40" y="23.90" width="232.5" height="122.6" fill="none" stroke="#444444" stroke-width="1.35"/>
<rect x="387.30" y="19.60" width="13.80" height="5.00" fill="#ff1111"/>
<line x1="328.40" y1="146.50" x2="328.40" y2="151.10" stroke="#4a4a4a" stroke-width="1.3"/>
<line x1="337.75" y1="146.50" x2="337.75" y2="151.10" stroke="#4a4a4a" stroke-width="1.3"/>
<line x1="347.10" y1="146.50" x2="347.10" y2="154.80" stroke="#4a4a4a" stroke-width="1.3"/>
<line x1="356.45" y1="146.50" x2="356.45" y2="151.10" stroke="#4a4a4a" stroke-width="1.3"/>
<line x1="365.80" y1="146.50" x2="365.80" y2="151.10" stroke="#4a4a4a" stroke-width="1.3"/>
<line x1="375.15" y1="146.50" x2="375.15" y2="151.10" stroke="#4a4a4a" stroke-width="1.3"/>
<line x1="384.50" y1="146.50" x2="384.50" y2="151.10" stroke="#4a4a4a" stroke-width="1.3"/>
<line x1="393.85" y1="146.50" x2="393.85" y2="154.80" stroke="#4a4a4a" stroke-width="1.3"/>
<line x1="403.20" y1="146.50" x2="403.20" y2="151.10" stroke="#4a4a4a" stroke-width="1.3"/>
<line x1="412.55" y1="146.50" x2="412.55" y2="151.10" stroke="#4a4a4a" stroke-width="1.3"/>
<line x1="421.90" y1="146.50" x2="421.90" y2="151.10" stroke="#4a4a4a" stroke-width="1.3"/>
<line x1="431.25" y1="146.50" x2="431.25" y2="151.10" stroke="#4a4a4a" stroke-width="1.3"/>
<line x1="440.60" y1="146.50" x2="440.60" y2="154.80" stroke="#4a4a4a" stroke-width="1.3"/>
<line x1="449.95" y1="146.50" x2="449.95" y2="151.10" stroke="#4a4a4a" stroke-width="1.3"/>
<line x1="459.30" y1="146.50" x2="459.30" y2="151.10" stroke="#4a4a4a" stroke-width="1.3"/>
<line x1="468.65" y1="146.50" x2="468.65" y2="151.10" stroke="#4a4a4a" stroke-width="1.3"/>
<line x1="478.00" y1="146.50" x2="478.00" y2="151.10" stroke="#4a4a4a" stroke-width="1.3"/>
<line x1="487.35" y1="146.50" x2="487.35" y2="154.80" stroke="#4a4a4a" stroke-width="1.3"/>
<line x1="496.70" y1="146.50" x2="496.70" y2="151.10" stroke="#4a4a4a" stroke-width="1.3"/>
<line x1="506.05" y1="146.50" x2="506.05" y2="151.10" stroke="#4a4a4a" stroke-width="1.3"/>
<line x1="515.40" y1="146.50" x2="515.40" y2="151.10" stroke="#4a4a4a" stroke-width="1.3"/>
<line x1="524.75" y1="146.50" x2="524.75" y2="151.10" stroke="#4a4a4a" stroke-width="1.3"/>
<line x1="534.10" y1="146.50" x2="534.10" y2="154.80" stroke="#4a4a4a" stroke-width="1.3"/>
<line x1="543.45" y1="146.50" x2="543.45" y2="151.10" stroke="#4a4a4a" stroke-width="1.3"/>
<line x1="552.80" y1="146.50" x2="552.80" y2="151.10" stroke="#4a4a4a" stroke-width="1.3"/>
<text x="339.80" y="166.60" font-size="10.4" textLength="14.57" lengthAdjust="spacingAndGlyphs" fill="#222">8.70</text>
<text x="386.55" y="166.60" font-size="10.4" textLength="14.57" lengthAdjust="spacingAndGlyphs" fill="#222">8.60</text>
<text x="433.30" y="166.60" font-size="10.4" textLength="14.57" lengthAdjust="spacingAndGlyphs" fill="#222">8.50</text>
<text x="480.05" y="166.60" font-size="10.4" textLength="14.57" lengthAdjust="spacingAndGlyphs" fill="#222">8.40</text>
<text x="526.80" y="166.60" font-size="10.4" textLength="14.57" lengthAdjust="spacingAndGlyphs" fill="#222">8.30</text>
<text x="425.82" y="175.60" font-size="8.5" textLength="1.68" lengthAdjust="spacingAndGlyphs" fill="#222">1</text>
<text x="429.11" y="179.90" font-size="10.6" textLength="28.33" lengthAdjust="spacingAndGlyphs" fill="#222">H (ppm)</text>
<line x1="322.20" y1="36.79" x2="325.40" y2="36.79" stroke="#4a4a4a" stroke-width="1.3"/>
<line x1="322.20" y1="56.94" x2="325.40" y2="56.94" stroke="#4a4a4a" stroke-width="1.3"/>
<line x1="322.20" y1="77.09" x2="325.40" y2="77.09" stroke="#4a4a4a" stroke-width="1.3"/>
<line x1="319.10" y1="97.24" x2="325.40" y2="97.24" stroke="#4a4a4a" stroke-width="1.3"/>
<line x1="322.20" y1="117.39" x2="325.40" y2="117.39" stroke="#4a4a4a" stroke-width="1.3"/>
<line x1="322.20" y1="137.54" x2="325.40" y2="137.54" stroke="#4a4a4a" stroke-width="1.3"/>
<text x="309.76" y="100.74" font-size="10.4" textLength="8.33" lengthAdjust="spacingAndGlyphs" fill="#222">50</text>
<g transform="translate(291.80,85.20) rotate(-90)">
<text x="-24.23" y="-3.50" font-size="6.9" textLength="8.41" lengthAdjust="spacingAndGlyphs" fill="#222">13</text>
<text x="-14.50" y="0.00" font-size="9.0" textLength="39.23" lengthAdjust="spacingAndGlyphs" fill="#1a1a1a">C (ppm)</text>
</g>
<rect x="604.90" y="23.90" width="232.5" height="122.6" fill="none" stroke="#444444" stroke-width="1.35"/>
<rect x="666.00" y="19.60" width="53.00" height="5.00" fill="#ff1111"/>
<line x1="607.85" y1="146.50" x2="607.85" y2="151.10" stroke="#4a4a4a" stroke-width="1.3"/>
<line x1="617.20" y1="146.50" x2="617.20" y2="151.10" stroke="#4a4a4a" stroke-width="1.3"/>
<line x1="626.55" y1="146.50" x2="626.55" y2="154.80" stroke="#4a4a4a" stroke-width="1.3"/>
<line x1="635.90" y1="146.50" x2="635.90" y2="151.10" stroke="#4a4a4a" stroke-width="1.3"/>
<line x1="645.25" y1="146.50" x2="645.25" y2="151.10" stroke="#4a4a4a" stroke-width="1.3"/>
<line x1="654.60" y1="146.50" x2="654.60" y2="151.10" stroke="#4a4a4a" stroke-width="1.3"/>
<line x1="663.95" y1="146.50" x2="663.95" y2="151.10" stroke="#4a4a4a" stroke-width="1.3"/>
<line x1="673.30" y1="146.50" x2="673.30" y2="154.80" stroke="#4a4a4a" stroke-width="1.3"/>
<line x1="682.65" y1="146.50" x2="682.65" y2="151.10" stroke="#4a4a4a" stroke-width="1.3"/>
<line x1="692.00" y1="146.50" x2="692.00" y2="151.10" stroke="#4a4a4a" stroke-width="1.3"/>
<line x1="701.35" y1="146.50" x2="701.35" y2="151.10" stroke="#4a4a4a" stroke-width="1.3"/>
<line x1="710.70" y1="146.50" x2="710.70" y2="151.10" stroke="#4a4a4a" stroke-width="1.3"/>
<line x1="720.05" y1="146.50" x2="720.05" y2="154.80" stroke="#4a4a4a" stroke-width="1.3"/>
<line x1="729.40" y1="146.50" x2="729.40" y2="151.10" stroke="#4a4a4a" stroke-width="1.3"/>
<line x1="738.75" y1="146.50" x2="738.75" y2="151.10" stroke="#4a4a4a" stroke-width="1.3"/>
<line x1="748.10" y1="146.50" x2="748.10" y2="151.10" stroke="#4a4a4a" stroke-width="1.3"/>
<line x1="757.45" y1="146.50" x2="757.45" y2="151.10" stroke="#4a4a4a" stroke-width="1.3"/>
<line x1="766.80" y1="146.50" x2="766.80" y2="154.80" stroke="#4a4a4a" stroke-width="1.3"/>
<line x1="776.15" y1="146.50" x2="776.15" y2="151.10" stroke="#4a4a4a" stroke-width="1.3"/>
<line x1="785.50" y1="146.50" x2="785.50" y2="151.10" stroke="#4a4a4a" stroke-width="1.3"/>
<line x1="794.85" y1="146.50" x2="794.85" y2="151.10" stroke="#4a4a4a" stroke-width="1.3"/>
<line x1="804.20" y1="146.50" x2="804.20" y2="151.10" stroke="#4a4a4a" stroke-width="1.3"/>
<line x1="813.55" y1="146.50" x2="813.55" y2="154.80" stroke="#4a4a4a" stroke-width="1.3"/>
<line x1="822.90" y1="146.50" x2="822.90" y2="151.10" stroke="#4a4a4a" stroke-width="1.3"/>
<line x1="832.25" y1="146.50" x2="832.25" y2="151.10" stroke="#4a4a4a" stroke-width="1.3"/>
<text x="619.25" y="166.60" font-size="10.4" textLength="14.57" lengthAdjust="spacingAndGlyphs" fill="#222">8.70</text>
<text x="666.00" y="166.60" font-size="10.4" textLength="14.57" lengthAdjust="spacingAndGlyphs" fill="#222">8.60</text>
<text x="712.75" y="166.60" font-size="10.4" textLength="14.57" lengthAdjust="spacingAndGlyphs" fill="#222">8.50</text>
<text x="759.50" y="166.60" font-size="10.4" textLength="14.57" lengthAdjust="spacingAndGlyphs" fill="#222">8.40</text>
<text x="806.25" y="166.60" font-size="10.4" textLength="14.57" lengthAdjust="spacingAndGlyphs" fill="#222">8.30</text>
<text x="705.32" y="175.60" font-size="8.5" textLength="1.68" lengthAdjust="spacingAndGlyphs" fill="#222">1</text>
<text x="708.61" y="179.90" font-size="10.6" textLength="28.33" lengthAdjust="spacingAndGlyphs" fill="#222">H (ppm)</text>
<line x1="601.70" y1="36.79" x2="604.90" y2="36.79" stroke="#4a4a4a" stroke-width="1.3"/>
<line x1="601.70" y1="56.94" x2="604.90" y2="56.94" stroke="#4a4a4a" stroke-width="1.3"/>
<line x1="601.70" y1="77.09" x2="604.90" y2="77.09" stroke="#4a4a4a" stroke-width="1.3"/>
<line x1="598.60" y1="97.24" x2="604.90" y2="97.24" stroke="#4a4a4a" stroke-width="1.3"/>
<line x1="601.70" y1="117.39" x2="604.90" y2="117.39" stroke="#4a4a4a" stroke-width="1.3"/>
<line x1="601.70" y1="137.54" x2="604.90" y2="137.54" stroke="#4a4a4a" stroke-width="1.3"/>
<text x="589.26" y="100.74" font-size="10.4" textLength="8.33" lengthAdjust="spacingAndGlyphs" fill="#222">50</text>
<g transform="translate(571.30,85.20) rotate(-90)">
<text x="-24.23" y="-3.50" font-size="6.9" textLength="8.41" lengthAdjust="spacingAndGlyphs" fill="#222">13</text>
<text x="-14.50" y="0.00" font-size="9.0" textLength="39.23" lengthAdjust="spacingAndGlyphs" fill="#1a1a1a">C (ppm)</text>
</g>
<rect x="884.00" y="23.90" width="232.5" height="122.6" fill="none" stroke="#444444" stroke-width="1.35"/>
<rect x="945.20" y="19.60" width="53.00" height="5.00" fill="#ff1111"/>
<line x1="887.30" y1="146.50" x2="887.30" y2="151.10" stroke="#4a4a4a" stroke-width="1.3"/>
<line x1="896.65" y1="146.50" x2="896.65" y2="151.10" stroke="#4a4a4a" stroke-width="1.3"/>
<line x1="906.00" y1="146.50" x2="906.00" y2="154.80" stroke="#4a4a4a" stroke-width="1.3"/>
<line x1="915.35" y1="146.50" x2="915.35" y2="151.10" stroke="#4a4a4a" stroke-width="1.3"/>
<line x1="924.70" y1="146.50" x2="924.70" y2="151.10" stroke="#4a4a4a" stroke-width="1.3"/>
<line x1="934.05" y1="146.50" x2="934.05" y2="151.10" stroke="#4a4a4a" stroke-width="1.3"/>
<line x1="943.40" y1="146.50" x2="943.40" y2="151.10" stroke="#4a4a4a" stroke-width="1.3"/>
<line x1="952.75" y1="146.50" x2="952.75" y2="154.80" stroke="#4a4a4a" stroke-width="1.3"/>
<line x1="962.10" y1="146.50" x2="962.10" y2="151.10" stroke="#4a4a4a" stroke-width="1.3"/>
<line x1="971.45" y1="146.50" x2="971.45" y2="151.10" stroke="#4a4a4a" stroke-width="1.3"/>
<line x1="980.80" y1="146.50" x2="980.80" y2="151.10" stroke="#4a4a4a" stroke-width="1.3"/>
<line x1="990.15" y1="146.50" x2="990.15" y2="151.10" stroke="#4a4a4a" stroke-width="1.3"/>
<line x1="999.50" y1="146.50" x2="999.50" y2="154.80" stroke="#4a4a4a" stroke-width="1.3"/>
<line x1="1008.85" y1="146.50" x2="1008.85" y2="151.10" stroke="#4a4a4a" stroke-width="1.3"/>
<line x1="1018.20" y1="146.50" x2="1018.20" y2="151.10" stroke="#4a4a4a" stroke-width="1.3"/>
<line x1="1027.55" y1="146.50" x2="1027.55" y2="151.10" stroke="#4a4a4a" stroke-width="1.3"/>
<line x1="1036.90" y1="146.50" x2="1036.90" y2="151.10" stroke="#4a4a4a" stroke-width="1.3"/>
<line x1="1046.25" y1="146.50" x2="1046.25" y2="154.80" stroke="#4a4a4a" stroke-width="1.3"/>
<line x1="1055.60" y1="146.50" x2="1055.60" y2="151.10" stroke="#4a4a4a" stroke-width="1.3"/>
<line x1="1064.95" y1="146.50" x2="1064.95" y2="151.10" stroke="#4a4a4a" stroke-width="1.3"/>
<line x1="1074.30" y1="146.50" x2="1074.30" y2="151.10" stroke="#4a4a4a" stroke-width="1.3"/>
<line x1="1083.65" y1="146.50" x2="1083.65" y2="151.10" stroke="#4a4a4a" stroke-width="1.3"/>
<line x1="1093.00" y1="146.50" x2="1093.00" y2="154.80" stroke="#4a4a4a" stroke-width="1.3"/>
<line x1="1102.35" y1="146.50" x2="1102.35" y2="151.10" stroke="#4a4a4a" stroke-width="1.3"/>
<line x1="1111.70" y1="146.50" x2="1111.70" y2="151.10" stroke="#4a4a4a" stroke-width="1.3"/>
<text x="896.49" y="166.60" font-size="10.4" textLength="18.74" lengthAdjust="spacingAndGlyphs" fill="#222">115.0</text>
<text x="943.24" y="166.60" font-size="10.4" textLength="18.74" lengthAdjust="spacingAndGlyphs" fill="#222">114.0</text>
<text x="989.99" y="166.60" font-size="10.4" textLength="18.74" lengthAdjust="spacingAndGlyphs" fill="#222">113.0</text>
<text x="1036.74" y="166.60" font-size="10.4" textLength="18.74" lengthAdjust="spacingAndGlyphs" fill="#222">112.0</text>
<text x="1083.49" y="166.60" font-size="10.4" textLength="18.74" lengthAdjust="spacingAndGlyphs" fill="#222">111.0</text>
<text x="982.61" y="175.60" font-size="8.5" textLength="6.38" lengthAdjust="spacingAndGlyphs" fill="#222">15</text>
<text x="989.70" y="179.90" font-size="10.6" textLength="28.43" lengthAdjust="spacingAndGlyphs" fill="#222">N (ppm)</text>
<line x1="880.80" y1="36.79" x2="884.00" y2="36.79" stroke="#4a4a4a" stroke-width="1.3"/>
<line x1="880.80" y1="56.94" x2="884.00" y2="56.94" stroke="#4a4a4a" stroke-width="1.3"/>
<line x1="880.80" y1="77.09" x2="884.00" y2="77.09" stroke="#4a4a4a" stroke-width="1.3"/>
<line x1="877.70" y1="97.24" x2="884.00" y2="97.24" stroke="#4a4a4a" stroke-width="1.3"/>
<line x1="880.80" y1="117.39" x2="884.00" y2="117.39" stroke="#4a4a4a" stroke-width="1.3"/>
<line x1="880.80" y1="137.54" x2="884.00" y2="137.54" stroke="#4a4a4a" stroke-width="1.3"/>
<text x="868.36" y="100.74" font-size="10.4" textLength="8.33" lengthAdjust="spacingAndGlyphs" fill="#222">50</text>
<g transform="translate(850.40,85.20) rotate(-90)">
<text x="-24.23" y="-3.50" font-size="6.9" textLength="8.41" lengthAdjust="spacingAndGlyphs" fill="#222">13</text>
<text x="-14.50" y="0.00" font-size="9.0" textLength="39.23" lengthAdjust="spacingAndGlyphs" fill="#1a1a1a">C (ppm)</text>
</g>
<rect x="46.00" y="207.85" width="232.5" height="121.65" fill="none" stroke="#444444" stroke-width="1.35"/>
<rect x="107.50" y="203.55" width="13.90" height="5.00" fill="#ff1111"/>
<line x1="50.00" y1="329.50" x2="50.00" y2="334.10" stroke="#4a4a4a" stroke-width="1.3"/>
<line x1="59.35" y1="329.50" x2="59.35" y2="334.10" stroke="#4a4a4a" stroke-width="1.3"/>
<line x1="68.70" y1="329.50" x2="68.70" y2="337.80" stroke="#4a4a4a" stroke-width="1.3"/>
<line x1="78.05" y1="329.50" x2="78.05" y2="334.10" stroke="#4a4a4a" stroke-width="1.3"/>
<line x1="87.40" y1="329.50" x2="87.40" y2="334.10" stroke="#4a4a4a" stroke-width="1.3"/>
<line x1="96.75" y1="329.50" x2="96.75" y2="334.10" stroke="#4a4a4a" stroke-width="1.3"/>
<line x1="106.10" y1="329.50" x2="106.10" y2="334.10" stroke="#4a4a4a" stroke-width="1.3"/>
<line x1="115.45" y1="329.50" x2="115.45" y2="337.80" stroke="#4a4a4a" stroke-width="1.3"/>
<line x1="124.80" y1="329.50" x2="124.80" y2="334.10" stroke="#4a4a4a" stroke-width="1.3"/>
<line x1="134.15" y1="329.50" x2="134.15" y2="334.10" stroke="#4a4a4a" stroke-width="1.3"/>
<line x1="143.50" y1="329.50" x2="143.50" y2="334.10" stroke="#4a4a4a" stroke-width="1.3"/>
<line x1="152.85" y1="329.50" x2="152.85" y2="334.10" stroke="#4a4a4a" stroke-width="1.3"/>
<line x1="162.20" y1="329.50" x2="162.20" y2="337.80" stroke="#4a4a4a" stroke-width="1.3"/>
<line x1="171.55" y1="329.50" x2="171.55" y2="334.10" stroke="#4a4a4a" stroke-width="1.3"/>
<line x1="180.90" y1="329.50" x2="180.90" y2="334.10" stroke="#4a4a4a" stroke-width="1.3"/>
<line x1="190.25" y1="329.50" x2="190.25" y2="334.10" stroke="#4a4a4a" stroke-width="1.3"/>
<line x1="199.60" y1="329.50" x2="199.60" y2="334.10" stroke="#4a4a4a" stroke-width="1.3"/>
<line x1="208.95" y1="329.50" x2="208.95" y2="337.80" stroke="#4a4a4a" stroke-width="1.3"/>
<line x1="218.30" y1="329.50" x2="218.30" y2="334.10" stroke="#4a4a4a" stroke-width="1.3"/>
<line x1="227.65" y1="329.50" x2="227.65" y2="334.10" stroke="#4a4a4a" stroke-width="1.3"/>
<line x1="237.00" y1="329.50" x2="237.00" y2="334.10" stroke="#4a4a4a" stroke-width="1.3"/>
<line x1="246.35" y1="329.50" x2="246.35" y2="334.10" stroke="#4a4a4a" stroke-width="1.3"/>
<line x1="255.70" y1="329.50" x2="255.70" y2="337.80" stroke="#4a4a4a" stroke-width="1.3"/>
<line x1="265.05" y1="329.50" x2="265.05" y2="334.10" stroke="#4a4a4a" stroke-width="1.3"/>
<line x1="274.40" y1="329.50" x2="274.40" y2="334.10" stroke="#4a4a4a" stroke-width="1.3"/>
<text x="59.19" y="350.00" font-size="10.4" textLength="18.74" lengthAdjust="spacingAndGlyphs" fill="#222">115.0</text>
<text x="105.94" y="350.00" font-size="10.4" textLength="18.74" lengthAdjust="spacingAndGlyphs" fill="#222">114.0</text>
<text x="152.69" y="350.00" font-size="10.4" textLength="18.74" lengthAdjust="spacingAndGlyphs" fill="#222">113.0</text>
<text x="199.44" y="350.00" font-size="10.4" textLength="18.74" lengthAdjust="spacingAndGlyphs" fill="#222">112.0</text>
<text x="246.19" y="350.00" font-size="10.4" textLength="18.74" lengthAdjust="spacingAndGlyphs" fill="#222">111.0</text>
<text x="144.61" y="359.00" font-size="8.5" textLength="6.38" lengthAdjust="spacingAndGlyphs" fill="#222">15</text>
<text x="151.70" y="363.30" font-size="10.6" textLength="28.43" lengthAdjust="spacingAndGlyphs" fill="#222">N (ppm)</text>
<line x1="42.80" y1="226.30" x2="46.00" y2="226.30" stroke="#4a4a4a" stroke-width="1.3"/>
<line x1="42.80" y1="244.80" x2="46.00" y2="244.80" stroke="#4a4a4a" stroke-width="1.3"/>
<line x1="42.80" y1="263.30" x2="46.00" y2="263.30" stroke="#4a4a4a" stroke-width="1.3"/>
<line x1="39.70" y1="281.80" x2="46.00" y2="281.80" stroke="#4a4a4a" stroke-width="1.3"/>
<line x1="42.80" y1="300.30" x2="46.00" y2="300.30" stroke="#4a4a4a" stroke-width="1.3"/>
<line x1="42.80" y1="318.80" x2="46.00" y2="318.80" stroke="#4a4a4a" stroke-width="1.3"/>
<text x="30.36" y="285.30" font-size="10.4" textLength="8.33" lengthAdjust="spacingAndGlyphs" fill="#222">60</text>
<g transform="translate(12.40,268.68) rotate(-90)">
<text x="-24.23" y="-3.50" font-size="6.9" textLength="8.41" lengthAdjust="spacingAndGlyphs" fill="#222">13</text>
<text x="-14.50" y="0.00" font-size="9.0" textLength="39.23" lengthAdjust="spacingAndGlyphs" fill="#1a1a1a">C (ppm)</text>
</g>
<rect x="325.40" y="207.85" width="232.5" height="121.65" fill="none" stroke="#444444" stroke-width="1.35"/>
<rect x="387.30" y="203.55" width="13.80" height="5.00" fill="#ff1111"/>
<line x1="328.40" y1="329.50" x2="328.40" y2="334.10" stroke="#4a4a4a" stroke-width="1.3"/>
<line x1="337.75" y1="329.50" x2="337.75" y2="334.10" stroke="#4a4a4a" stroke-width="1.3"/>
<line x1="347.10" y1="329.50" x2="347.10" y2="337.80" stroke="#4a4a4a" stroke-width="1.3"/>
<line x1="356.45" y1="329.50" x2="356.45" y2="334.10" stroke="#4a4a4a" stroke-width="1.3"/>
<line x1="365.80" y1="329.50" x2="365.80" y2="334.10" stroke="#4a4a4a" stroke-width="1.3"/>
<line x1="375.15" y1="329.50" x2="375.15" y2="334.10" stroke="#4a4a4a" stroke-width="1.3"/>
<line x1="384.50" y1="329.50" x2="384.50" y2="334.10" stroke="#4a4a4a" stroke-width="1.3"/>
<line x1="393.85" y1="329.50" x2="393.85" y2="337.80" stroke="#4a4a4a" stroke-width="1.3"/>
<line x1="403.20" y1="329.50" x2="403.20" y2="334.10" stroke="#4a4a4a" stroke-width="1.3"/>
<line x1="412.55" y1="329.50" x2="412.55" y2="334.10" stroke="#4a4a4a" stroke-width="1.3"/>
<line x1="421.90" y1="329.50" x2="421.90" y2="334.10" stroke="#4a4a4a" stroke-width="1.3"/>
<line x1="431.25" y1="329.50" x2="431.25" y2="334.10" stroke="#4a4a4a" stroke-width="1.3"/>
<line x1="440.60" y1="329.50" x2="440.60" y2="337.80" stroke="#4a4a4a" stroke-width="1.3"/>
<line x1="449.95" y1="329.50" x2="449.95" y2="334.10" stroke="#4a4a4a" stroke-width="1.3"/>
<line x1="459.30" y1="329.50" x2="459.30" y2="334.10" stroke="#4a4a4a" stroke-width="1.3"/>
<line x1="468.65" y1="329.50" x2="468.65" y2="334.10" stroke="#4a4a4a" stroke-width="1.3"/>
<line x1="478.00" y1="329.50" x2="478.00" y2="334.10" stroke="#4a4a4a" stroke-width="1.3"/>
<line x1="487.35" y1="329.50" x2="487.35" y2="337.80" stroke="#4a4a4a" stroke-width="1.3"/>
<line x1="496.70" y1="329.50" x2="496.70" y2="334.10" stroke="#4a4a4a" stroke-width="1.3"/>
<line x1="506.05" y1="329.50" x2="506.05" y2="334.10" stroke="#4a4a4a" stroke-width="1.3"/>
<line x1="515.40" y1="329.50" x2="515.40" y2="334.10" stroke="#4a4a4a" stroke-width="1.3"/>
<line x1="524.75" y1="329.50" x2="524.75" y2="334.10" stroke="#4a4a4a" stroke-width="1.3"/>
<line x1="534.10" y1="329.50" x2="534.10" y2="337.80" stroke="#4a4a4a" stroke-width="1.3"/>
<line x1="543.45" y1="329.50" x2="543.45" y2="334.10" stroke="#4a4a4a" stroke-width="1.3"/>
<line x1="552.80" y1="329.50" x2="552.80" y2="334.10" stroke="#4a4a4a" stroke-width="1.3"/>
<text x="339.80" y="350.00" font-size="10.4" textLength="14.57" lengthAdjust="spacingAndGlyphs" fill="#222">8.70</text>
<text x="386.55" y="350.00" font-size="10.4" textLength="14.57" lengthAdjust="spacingAndGlyphs" fill="#222">8.60</text>
<text x="433.30" y="350.00" font-size="10.4" textLength="14.57" lengthAdjust="spacingAndGlyphs" fill="#222">8.50</text>
<text x="480.05" y="350.00" font-size="10.4" textLength="14.57" lengthAdjust="spacingAndGlyphs" fill="#222">8.40</text>
<text x="526.80" y="350.00" font-size="10.4" textLength="14.57" lengthAdjust="spacingAndGlyphs" fill="#222">8.30</text>
<text x="425.82" y="359.00" font-size="8.5" textLength="1.68" lengthAdjust="spacingAndGlyphs" fill="#222">1</text>
<text x="429.11" y="363.30" font-size="10.6" textLength="28.33" lengthAdjust="spacingAndGlyphs" fill="#222">H (ppm)</text>
<line x1="322.20" y1="226.30" x2="325.40" y2="226.30" stroke="#4a4a4a" stroke-width="1.3"/>
<line x1="322.20" y1="244.80" x2="325.40" y2="244.80" stroke="#4a4a4a" stroke-width="1.3"/>
<line x1="322.20" y1="263.30" x2="325.40" y2="263.30" stroke="#4a4a4a" stroke-width="1.3"/>
<line x1="319.10" y1="281.80" x2="325.40" y2="281.80" stroke="#4a4a4a" stroke-width="1.3"/>
<line x1="322.20" y1="300.30" x2="325.40" y2="300.30" stroke="#4a4a4a" stroke-width="1.3"/>
<line x1="322.20" y1="318.80" x2="325.40" y2="318.80" stroke="#4a4a4a" stroke-width="1.3"/>
<text x="309.76" y="285.30" font-size="10.4" textLength="8.33" lengthAdjust="spacingAndGlyphs" fill="#222">60</text>
<g transform="translate(291.80,268.68) rotate(-90)">
<text x="-24.23" y="-3.50" font-size="6.9" textLength="8.41" lengthAdjust="spacingAndGlyphs" fill="#222">13</text>
<text x="-14.50" y="0.00" font-size="9.0" textLength="39.23" lengthAdjust="spacingAndGlyphs" fill="#1a1a1a">C (ppm)</text>
</g>
<rect x="604.90" y="207.85" width="232.5" height="121.65" fill="none" stroke="#444444" stroke-width="1.35"/>
<rect x="666.50" y="203.55" width="26.90" height="5.00" fill="#ff1111"/>
<line x1="607.85" y1="329.50" x2="607.85" y2="334.10" stroke="#4a4a4a" stroke-width="1.3"/>
<line x1="617.20" y1="329.50" x2="617.20" y2="334.10" stroke="#4a4a4a" stroke-width="1.3"/>
<line x1="626.55" y1="329.50" x2="626.55" y2="337.80" stroke="#4a4a4a" stroke-width="1.3"/>
<line x1="635.90" y1="329.50" x2="635.90" y2="334.10" stroke="#4a4a4a" stroke-width="1.3"/>
<line x1="645.25" y1="329.50" x2="645.25" y2="334.10" stroke="#4a4a4a" stroke-width="1.3"/>
<line x1="654.60" y1="329.50" x2="654.60" y2="334.10" stroke="#4a4a4a" stroke-width="1.3"/>
<line x1="663.95" y1="329.50" x2="663.95" y2="334.10" stroke="#4a4a4a" stroke-width="1.3"/>
<line x1="673.30" y1="329.50" x2="673.30" y2="337.80" stroke="#4a4a4a" stroke-width="1.3"/>
<line x1="682.65" y1="329.50" x2="682.65" y2="334.10" stroke="#4a4a4a" stroke-width="1.3"/>
<line x1="692.00" y1="329.50" x2="692.00" y2="334.10" stroke="#4a4a4a" stroke-width="1.3"/>
<line x1="701.35" y1="329.50" x2="701.35" y2="334.10" stroke="#4a4a4a" stroke-width="1.3"/>
<line x1="710.70" y1="329.50" x2="710.70" y2="334.10" stroke="#4a4a4a" stroke-width="1.3"/>
<line x1="720.05" y1="329.50" x2="720.05" y2="337.80" stroke="#4a4a4a" stroke-width="1.3"/>
<line x1="729.40" y1="329.50" x2="729.40" y2="334.10" stroke="#4a4a4a" stroke-width="1.3"/>
<line x1="738.75" y1="329.50" x2="738.75" y2="334.10" stroke="#4a4a4a" stroke-width="1.3"/>
<line x1="748.10" y1="329.50" x2="748.10" y2="334.10" stroke="#4a4a4a" stroke-width="1.3"/>
<line x1="757.45" y1="329.50" x2="757.45" y2="334.10" stroke="#4a4a4a" stroke-width="1.3"/>
<line x1="766.80" y1="329.50" x2="766.80" y2="337.80" stroke="#4a4a4a" stroke-width="1.3"/>
<line x1="776.15" y1="329.50" x2="776.15" y2="334.10" stroke="#4a4a4a" stroke-width="1.3"/>
<line x1="785.50" y1="329.50" x2="785.50" y2="334.10" stroke="#4a4a4a" stroke-width="1.3"/>
<line x1="794.85" y1="329.50" x2="794.85" y2="334.10" stroke="#4a4a4a" stroke-width="1.3"/>
<line x1="804.20" y1="329.50" x2="804.20" y2="334.10" stroke="#4a4a4a" stroke-width="1.3"/>
<line x1="813.55" y1="329.50" x2="813.55" y2="337.80" stroke="#4a4a4a" stroke-width="1.3"/>
<line x1="822.90" y1="329.50" x2="822.90" y2="334.10" stroke="#4a4a4a" stroke-width="1.3"/>
<line x1="832.25" y1="329.50" x2="832.25" y2="334.10" stroke="#4a4a4a" stroke-width="1.3"/>
<text x="619.25" y="350.00" font-size="10.4" textLength="14.57" lengthAdjust="spacingAndGlyphs" fill="#222">8.70</text>
<text x="666.00" y="350.00" font-size="10.4" textLength="14.57" lengthAdjust="spacingAndGlyphs" fill="#222">8.60</text>
<text x="712.75" y="350.00" font-size="10.4" textLength="14.57" lengthAdjust="spacingAndGlyphs" fill="#222">8.50</text>
<text x="759.50" y="350.00" font-size="10.4" textLength="14.57" lengthAdjust="spacingAndGlyphs" fill="#222">8.40</text>
<text x="806.25" y="350.00" font-size="10.4" textLength="14.57" lengthAdjust="spacingAndGlyphs" fill="#222">8.30</text>
<text x="705.32" y="359.00" font-size="8.5" textLength="1.68" lengthAdjust="spacingAndGlyphs" fill="#222">1</text>
<text x="708.61" y="363.30" font-size="10.6" textLength="28.33" lengthAdjust="spacingAndGlyphs" fill="#222">H (ppm)</text>
<line x1="601.70" y1="226.30" x2="604.90" y2="226.30" stroke="#4a4a4a" stroke-width="1.3"/>
<line x1="601.70" y1="244.80" x2="604.90" y2="244.80" stroke="#4a4a4a" stroke-width="1.3"/>
<line x1="601.70" y1="263.30" x2="604.90" y2="263.30" stroke="#4a4a4a" stroke-width="1.3"/>
<line x1="598.60" y1="281.80" x2="604.90" y2="281.80" stroke="#4a4a4a" stroke-width="1.3"/>
<line x1="601.70" y1="300.30" x2="604.90" y2="300.30" stroke="#4a4a4a" stroke-width="1.3"/>
<line x1="601.70" y1="318.80" x2="604.90" y2="318.80" stroke="#4a4a4a" stroke-width="1.3"/>
<text x="589.26" y="285.30" font-size="10.4" textLength="8.33" lengthAdjust="spacingAndGlyphs" fill="#222">60</text>
<g transform="translate(571.30,268.68) rotate(-90)">
<text x="-24.23" y="-3.50" font-size="6.9" textLength="8.41" lengthAdjust="spacingAndGlyphs" fill="#222">13</text>
<text x="-14.50" y="0.00" font-size="9.0" textLength="39.23" lengthAdjust="spacingAndGlyphs" fill="#1a1a1a">C (ppm)</text>
</g>
<rect x="884.00" y="207.85" width="232.5" height="121.65" fill="none" stroke="#444444" stroke-width="1.35"/>
<rect x="945.50" y="203.55" width="26.90" height="5.00" fill="#ff1111"/>
<line x1="887.30" y1="329.50" x2="887.30" y2="334.10" stroke="#4a4a4a" stroke-width="1.3"/>
<line x1="896.65" y1="329.50" x2="896.65" y2="334.10" stroke="#4a4a4a" stroke-width="1.3"/>
<line x1="906.00" y1="329.50" x2="906.00" y2="337.80" stroke="#4a4a4a" stroke-width="1.3"/>
<line x1="915.35" y1="329.50" x2="915.35" y2="334.10" stroke="#4a4a4a" stroke-width="1.3"/>
<line x1="924.70" y1="329.50" x2="924.70" y2="334.10" stroke="#4a4a4a" stroke-width="1.3"/>
<line x1="934.05" y1="329.50" x2="934.05" y2="334.10" stroke="#4a4a4a" stroke-width="1.3"/>
<line x1="943.40" y1="329.50" x2="943.40" y2="334.10" stroke="#4a4a4a" stroke-width="1.3"/>
<line x1="952.75" y1="329.50" x2="952.75" y2="337.80" stroke="#4a4a4a" stroke-width="1.3"/>
<line x1="962.10" y1="329.50" x2="962.10" y2="334.10" stroke="#4a4a4a" stroke-width="1.3"/>
<line x1="971.45" y1="329.50" x2="971.45" y2="334.10" stroke="#4a4a4a" stroke-width="1.3"/>
<line x1="980.80" y1="329.50" x2="980.80" y2="334.10" stroke="#4a4a4a" stroke-width="1.3"/>
<line x1="990.15" y1="329.50" x2="990.15" y2="334.10" stroke="#4a4a4a" stroke-width="1.3"/>
<line x1="999.50" y1="329.50" x2="999.50" y2="337.80" stroke="#4a4a4a" stroke-width="1.3"/>
<line x1="1008.85" y1="329.50" x2="1008.85" y2="334.10" stroke="#4a4a4a" stroke-width="1.3"/>
<line x1="1018.20" y1="329.50" x2="1018.20" y2="334.10" stroke="#4a4a4a" stroke-width="1.3"/>
<line x1="1027.55" y1="329.50" x2="1027.55" y2="334.10" stroke="#4a4a4a" stroke-width="1.3"/>
<line x1="1036.90" y1="329.50" x2="1036.90" y2="334.10" stroke="#4a4a4a" stroke-width="1.3"/>
<line x1="1046.25" y1="329.50" x2="1046.25" y2="337.80" stroke="#4a4a4a" stroke-width="1.3"/>
<line x1="1055.60" y1="329.50" x2="1055.60" y2="334.10" stroke="#4a4a4a" stroke-width="1.3"/>
<line x1="1064.95" y1="329.50" x2="1064.95" y2="334.10" stroke="#4a4a4a" stroke-width="1.3"/>
<line x1="1074.30" y1="329.50" x2="1074.30" y2="334.10" stroke="#4a4a4a" stroke-width="1.3"/>
<line x1="1083.65" y1="329.50" x2="1083.65" y2="334.10" stroke="#4a4a4a" stroke-width="1.3"/>
<line x1="1093.00" y1="329.50" x2="1093.00" y2="337.80" stroke="#4a4a4a" stroke-width="1.3"/>
<line x1="1102.35" y1="329.50" x2="1102.35" y2="334.10" stroke="#4a4a4a" stroke-width="1.3"/>
<line x1="1111.70" y1="329.50" x2="1111.70" y2="334.10" stroke="#4a4a4a" stroke-width="1.3"/>
<text x="896.49" y="350.00" font-size="10.4" textLength="18.74" lengthAdjust="spacingAndGlyphs" fill="#222">115.0</text>
<text x="943.24" y="350.00" font-size="10.4" textLength="18.74" lengthAdjust="spacingAndGlyphs" fill="#222">114.0</text>
<text x="989.99" y="350.00" font-size="10.4" textLength="18.74" lengthAdjust="spacingAndGlyphs" fill="#222">113.0</text>
<text x="1036.74" y="350.00" font-size="10.4" textLength="18.74" lengthAdjust="spacingAndGlyphs" fill="#222">112.0</text>
<text x="1083.49" y="350.00" font-size="10.4" textLength="18.74" lengthAdjust="spacingAndGlyphs" fill="#222">111.0</text>
<text x="982.61" y="359.00" font-size="8.5" textLength="6.38" lengthAdjust="spacingAndGlyphs" fill="#222">15</text>
<text x="989.70" y="363.30" font-size="10.6" textLength="28.43" lengthAdjust="spacingAndGlyphs" fill="#222">N (ppm)</text>
<line x1="880.80" y1="226.30" x2="884.00" y2="226.30" stroke="#4a4a4a" stroke-width="1.3"/>
<line x1="880.80" y1="244.80" x2="884.00" y2="244.80" stroke="#4a4a4a" stroke-width="1.3"/>
<line x1="880.80" y1="263.30" x2="884.00" y2="263.30" stroke="#4a4a4a" stroke-width="1.3"/>
<line x1="877.70" y1="281.80" x2="884.00" y2="281.80" stroke="#4a4a4a" stroke-width="1.3"/>
<line x1="880.80" y1="300.30" x2="884.00" y2="300.30" stroke="#4a4a4a" stroke-width="1.3"/>
<line x1="880.80" y1="318.80" x2="884.00" y2="318.80" stroke="#4a4a4a" stroke-width="1.3"/>
<text x="868.36" y="285.30" font-size="10.4" textLength="8.33" lengthAdjust="spacingAndGlyphs" fill="#222">60</text>
<g transform="translate(850.40,268.68) rotate(-90)">
<text x="-24.23" y="-3.50" font-size="6.9" textLength="8.41" lengthAdjust="spacingAndGlyphs" fill="#222">13</text>
<text x="-14.50" y="0.00" font-size="9.0" textLength="39.23" lengthAdjust="spacingAndGlyphs" fill="#1a1a1a">C (ppm)</text>
</g>
<rect x="46.00" y="390.80" width="232.5" height="121.5" fill="none" stroke="#444444" stroke-width="1.35"/>
<rect x="108.00" y="386.50" width="13.40" height="5.00" fill="#ff1111"/>
<line x1="50.00" y1="512.30" x2="50.00" y2="516.90" stroke="#4a4a4a" stroke-width="1.3"/>
<line x1="59.35" y1="512.30" x2="59.35" y2="516.90" stroke="#4a4a4a" stroke-width="1.3"/>
<line x1="68.70" y1="512.30" x2="68.70" y2="520.60" stroke="#4a4a4a" stroke-width="1.3"/>
<line x1="78.05" y1="512.30" x2="78.05" y2="516.90" stroke="#4a4a4a" stroke-width="1.3"/>
<line x1="87.40" y1="512.30" x2="87.40" y2="516.90" stroke="#4a4a4a" stroke-width="1.3"/>
<line x1="96.75" y1="512.30" x2="96.75" y2="516.90" stroke="#4a4a4a" stroke-width="1.3"/>
<line x1="106.10" y1="512.30" x2="106.10" y2="516.90" stroke="#4a4a4a" stroke-width="1.3"/>
<line x1="115.45" y1="512.30" x2="115.45" y2="520.60" stroke="#4a4a4a" stroke-width="1.3"/>
<line x1="124.80" y1="512.30" x2="124.80" y2="516.90" stroke="#4a4a4a" stroke-width="1.3"/>
<line x1="134.15" y1="512.30" x2="134.15" y2="516.90" stroke="#4a4a4a" stroke-width="1.3"/>
<line x1="143.50" y1="512.30" x2="143.50" y2="516.90" stroke="#4a4a4a" stroke-width="1.3"/>
<line x1="152.85" y1="512.30" x2="152.85" y2="516.90" stroke="#4a4a4a" stroke-width="1.3"/>
<line x1="162.20" y1="512.30" x2="162.20" y2="520.60" stroke="#4a4a4a" stroke-width="1.3"/>
<line x1="171.55" y1="512.30" x2="171.55" y2="516.90" stroke="#4a4a4a" stroke-width="1.3"/>
<line x1="180.90" y1="512.30" x2="180.90" y2="516.90" stroke="#4a4a4a" stroke-width="1.3"/>
<line x1="190.25" y1="512.30" x2="190.25" y2="516.90" stroke="#4a4a4a" stroke-width="1.3"/>
<line x1="199.60" y1="512.30" x2="199.60" y2="516.90" stroke="#4a4a4a" stroke-width="1.3"/>
<line x1="208.95" y1="512.30" x2="208.95" y2="520.60" stroke="#4a4a4a" stroke-width="1.3"/>
<line x1="218.30" y1="512.30" x2="218.30" y2="516.90" stroke="#4a4a4a" stroke-width="1.3"/>
<line x1="227.65" y1="512.30" x2="227.65" y2="516.90" stroke="#4a4a4a" stroke-width="1.3"/>
<line x1="237.00" y1="512.30" x2="237.00" y2="516.90" stroke="#4a4a4a" stroke-width="1.3"/>
<line x1="246.35" y1="512.30" x2="246.35" y2="516.90" stroke="#4a4a4a" stroke-width="1.3"/>
<line x1="255.70" y1="512.30" x2="255.70" y2="520.60" stroke="#4a4a4a" stroke-width="1.3"/>
<line x1="265.05" y1="512.30" x2="265.05" y2="516.90" stroke="#4a4a4a" stroke-width="1.3"/>
<line x1="274.40" y1="512.30" x2="274.40" y2="516.90" stroke="#4a4a4a" stroke-width="1.3"/>
<text x="59.19" y="533.20" font-size="10.4" textLength="18.74" lengthAdjust="spacingAndGlyphs" fill="#222">115.0</text>
<text x="105.94" y="533.20" font-size="10.4" textLength="18.74" lengthAdjust="spacingAndGlyphs" fill="#222">114.0</text>
<text x="152.69" y="533.20" font-size="10.4" textLength="18.74" lengthAdjust="spacingAndGlyphs" fill="#222">113.0</text>
<text x="199.44" y="533.20" font-size="10.4" textLength="18.74" lengthAdjust="spacingAndGlyphs" fill="#222">112.0</text>
<text x="246.19" y="533.20" font-size="10.4" textLength="18.74" lengthAdjust="spacingAndGlyphs" fill="#222">111.0</text>
<text x="144.61" y="542.20" font-size="8.5" textLength="6.38" lengthAdjust="spacingAndGlyphs" fill="#222">15</text>
<text x="151.70" y="546.50" font-size="10.6" textLength="28.43" lengthAdjust="spacingAndGlyphs" fill="#222">N (ppm)</text>
<line x1="42.80" y1="397.40" x2="46.00" y2="397.40" stroke="#4a4a4a" stroke-width="1.3"/>
<line x1="42.80" y1="407.65" x2="46.00" y2="407.65" stroke="#4a4a4a" stroke-width="1.3"/>
<line x1="42.80" y1="417.90" x2="46.00" y2="417.90" stroke="#4a4a4a" stroke-width="1.3"/>
<line x1="42.80" y1="428.15" x2="46.00" y2="428.15" stroke="#4a4a4a" stroke-width="1.3"/>
<line x1="39.70" y1="438.40" x2="46.00" y2="438.40" stroke="#4a4a4a" stroke-width="1.3"/>
<line x1="42.80" y1="448.65" x2="46.00" y2="448.65" stroke="#4a4a4a" stroke-width="1.3"/>
<line x1="42.80" y1="458.90" x2="46.00" y2="458.90" stroke="#4a4a4a" stroke-width="1.3"/>
<line x1="42.80" y1="469.15" x2="46.00" y2="469.15" stroke="#4a4a4a" stroke-width="1.3"/>
<line x1="42.80" y1="479.40" x2="46.00" y2="479.40" stroke="#4a4a4a" stroke-width="1.3"/>
<line x1="39.70" y1="489.65" x2="46.00" y2="489.65" stroke="#4a4a4a" stroke-width="1.3"/>
<line x1="42.80" y1="499.90" x2="46.00" y2="499.90" stroke="#4a4a4a" stroke-width="1.3"/>
<line x1="42.80" y1="510.15" x2="46.00" y2="510.15" stroke="#4a4a4a" stroke-width="1.3"/>
<text x="26.22" y="441.90" font-size="10.4" textLength="12.49" lengthAdjust="spacingAndGlyphs" fill="#222">175</text>
<text x="26.20" y="493.15" font-size="10.4" textLength="12.49" lengthAdjust="spacingAndGlyphs" fill="#222">180</text>
<g transform="translate(12.40,451.55) rotate(-90)">
<text x="-24.23" y="-3.50" font-size="6.9" textLength="8.41" lengthAdjust="spacingAndGlyphs" fill="#222">13</text>
<text x="-14.50" y="0.00" font-size="9.0" textLength="39.23" lengthAdjust="spacingAndGlyphs" fill="#1a1a1a">C (ppm)</text>
</g>
<rect x="325.40" y="390.80" width="232.5" height="121.5" fill="none" stroke="#444444" stroke-width="1.35"/>
<rect x="387.30" y="386.50" width="13.40" height="5.00" fill="#ff1111"/>
<line x1="328.40" y1="512.30" x2="328.40" y2="516.90" stroke="#4a4a4a" stroke-width="1.3"/>
<line x1="337.75" y1="512.30" x2="337.75" y2="516.90" stroke="#4a4a4a" stroke-width="1.3"/>
<line x1="347.10" y1="512.30" x2="347.10" y2="520.60" stroke="#4a4a4a" stroke-width="1.3"/>
<line x1="356.45" y1="512.30" x2="356.45" y2="516.90" stroke="#4a4a4a" stroke-width="1.3"/>
<line x1="365.80" y1="512.30" x2="365.80" y2="516.90" stroke="#4a4a4a" stroke-width="1.3"/>
<line x1="375.15" y1="512.30" x2="375.15" y2="516.90" stroke="#4a4a4a" stroke-width="1.3"/>
<line x1="384.50" y1="512.30" x2="384.50" y2="516.90" stroke="#4a4a4a" stroke-width="1.3"/>
<line x1="393.85" y1="512.30" x2="393.85" y2="520.60" stroke="#4a4a4a" stroke-width="1.3"/>
<line x1="403.20" y1="512.30" x2="403.20" y2="516.90" stroke="#4a4a4a" stroke-width="1.3"/>
<line x1="412.55" y1="512.30" x2="412.55" y2="516.90" stroke="#4a4a4a" stroke-width="1.3"/>
<line x1="421.90" y1="512.30" x2="421.90" y2="516.90" stroke="#4a4a4a" stroke-width="1.3"/>
<line x1="431.25" y1="512.30" x2="431.25" y2="516.90" stroke="#4a4a4a" stroke-width="1.3"/>
<line x1="440.60" y1="512.30" x2="440.60" y2="520.60" stroke="#4a4a4a" stroke-width="1.3"/>
<line x1="449.95" y1="512.30" x2="449.95" y2="516.90" stroke="#4a4a4a" stroke-width="1.3"/>
<line x1="459.30" y1="512.30" x2="459.30" y2="516.90" stroke="#4a4a4a" stroke-width="1.3"/>
<line x1="468.65" y1="512.30" x2="468.65" y2="516.90" stroke="#4a4a4a" stroke-width="1.3"/>
<line x1="478.00" y1="512.30" x2="478.00" y2="516.90" stroke="#4a4a4a" stroke-width="1.3"/>
<line x1="487.35" y1="512.30" x2="487.35" y2="520.60" stroke="#4a4a4a" stroke-width="1.3"/>
<line x1="496.70" y1="512.30" x2="496.70" y2="516.90" stroke="#4a4a4a" stroke-width="1.3"/>
<line x1="506.05" y1="512.30" x2="506.05" y2="516.90" stroke="#4a4a4a" stroke-width="1.3"/>
<line x1="515.40" y1="512.30" x2="515.40" y2="516.90" stroke="#4a4a4a" stroke-width="1.3"/>
<line x1="524.75" y1="512.30" x2="524.75" y2="516.90" stroke="#4a4a4a" stroke-width="1.3"/>
<line x1="534.10" y1="512.30" x2="534.10" y2="520.60" stroke="#4a4a4a" stroke-width="1.3"/>
<line x1="543.45" y1="512.30" x2="543.45" y2="516.90" stroke="#4a4a4a" stroke-width="1.3"/>
<line x1="552.80" y1="512.30" x2="552.80" y2="516.90" stroke="#4a4a4a" stroke-width="1.3"/>
<text x="339.80" y="533.20" font-size="10.4" textLength="14.57" lengthAdjust="spacingAndGlyphs" fill="#222">8.70</text>
<text x="386.55" y="533.20" font-size="10.4" textLength="14.57" lengthAdjust="spacingAndGlyphs" fill="#222">8.60</text>
<text x="433.30" y="533.20" font-size="10.4" textLength="14.57" lengthAdjust="spacingAndGlyphs" fill="#222">8.50</text>
<text x="480.05" y="533.20" font-size="10.4" textLength="14.57" lengthAdjust="spacingAndGlyphs" fill="#222">8.40</text>
<text x="526.80" y="533.20" font-size="10.4" textLength="14.57" lengthAdjust="spacingAndGlyphs" fill="#222">8.30</text>
<text x="425.82" y="542.20" font-size="8.5" textLength="1.68" lengthAdjust="spacingAndGlyphs" fill="#222">1</text>
<text x="429.11" y="546.50" font-size="10.6" textLength="28.33" lengthAdjust="spacingAndGlyphs" fill="#222">H (ppm)</text>
<line x1="322.20" y1="397.40" x2="325.40" y2="397.40" stroke="#4a4a4a" stroke-width="1.3"/>
<line x1="322.20" y1="407.65" x2="325.40" y2="407.65" stroke="#4a4a4a" stroke-width="1.3"/>
<line x1="322.20" y1="417.90" x2="325.40" y2="417.90" stroke="#4a4a4a" stroke-width="1.3"/>
<line x1="322.20" y1="428.15" x2="325.40" y2="428.15" stroke="#4a4a4a" stroke-width="1.3"/>
<line x1="319.10" y1="438.40" x2="325.40" y2="438.40" stroke="#4a4a4a" stroke-width="1.3"/>
<line x1="322.20" y1="448.65" x2="325.40" y2="448.65" stroke="#4a4a4a" stroke-width="1.3"/>
<line x1="322.20" y1="458.90" x2="325.40" y2="458.90" stroke="#4a4a4a" stroke-width="1.3"/>
<line x1="322.20" y1="469.15" x2="325.40" y2="469.15" stroke="#4a4a4a" stroke-width="1.3"/>
<line x1="322.20" y1="479.40" x2="325.40" y2="479.40" stroke="#4a4a4a" stroke-width="1.3"/>
<line x1="319.10" y1="489.65" x2="325.40" y2="489.65" stroke="#4a4a4a" stroke-width="1.3"/>
<line x1="322.20" y1="499.90" x2="325.40" y2="499.90" stroke="#4a4a4a" stroke-width="1.3"/>
<line x1="322.20" y1="510.15" x2="325.40" y2="510.15" stroke="#4a4a4a" stroke-width="1.3"/>
<text x="305.62" y="441.90" font-size="10.4" textLength="12.49" lengthAdjust="spacingAndGlyphs" fill="#222">175</text>
<text x="305.60" y="493.15" font-size="10.4" textLength="12.49" lengthAdjust="spacingAndGlyphs" fill="#222">180</text>
<g transform="translate(291.80,451.55) rotate(-90)">
<text x="-24.23" y="-3.50" font-size="6.9" textLength="8.41" lengthAdjust="spacingAndGlyphs" fill="#222">13</text>
<text x="-14.50" y="0.00" font-size="9.0" textLength="39.23" lengthAdjust="spacingAndGlyphs" fill="#1a1a1a">C (ppm)</text>
</g>
<rect x="604.90" y="390.80" width="232.5" height="121.5" fill="none" stroke="#444444" stroke-width="1.35"/>
<rect x="666.50" y="386.50" width="26.90" height="5.00" fill="#ff1111"/>
<line x1="607.85" y1="512.30" x2="607.85" y2="516.90" stroke="#4a4a4a" stroke-width="1.3"/>
<line x1="617.20" y1="512.30" x2="617.20" y2="516.90" stroke="#4a4a4a" stroke-width="1.3"/>
<line x1="626.55" y1="512.30" x2="626.55" y2="520.60" stroke="#4a4a4a" stroke-width="1.3"/>
<line x1="635.90" y1="512.30" x2="635.90" y2="516.90" stroke="#4a4a4a" stroke-width="1.3"/>
<line x1="645.25" y1="512.30" x2="645.25" y2="516.90" stroke="#4a4a4a" stroke-width="1.3"/>
<line x1="654.60" y1="512.30" x2="654.60" y2="516.90" stroke="#4a4a4a" stroke-width="1.3"/>
<line x1="663.95" y1="512.30" x2="663.95" y2="516.90" stroke="#4a4a4a" stroke-width="1.3"/>
<line x1="673.30" y1="512.30" x2="673.30" y2="520.60" stroke="#4a4a4a" stroke-width="1.3"/>
<line x1="682.65" y1="512.30" x2="682.65" y2="516.90" stroke="#4a4a4a" stroke-width="1.3"/>
<line x1="692.00" y1="512.30" x2="692.00" y2="516.90" stroke="#4a4a4a" stroke-width="1.3"/>
<line x1="701.35" y1="512.30" x2="701.35" y2="516.90" stroke="#4a4a4a" stroke-width="1.3"/>
<line x1="710.70" y1="512.30" x2="710.70" y2="516.90" stroke="#4a4a4a" stroke-width="1.3"/>
<line x1="720.05" y1="512.30" x2="720.05" y2="520.60" stroke="#4a4a4a" stroke-width="1.3"/>
<line x1="729.40" y1="512.30" x2="729.40" y2="516.90" stroke="#4a4a4a" stroke-width="1.3"/>
<line x1="738.75" y1="512.30" x2="738.75" y2="516.90" stroke="#4a4a4a" stroke-width="1.3"/>
<line x1="748.10" y1="512.30" x2="748.10" y2="516.90" stroke="#4a4a4a" stroke-width="1.3"/>
<line x1="757.45" y1="512.30" x2="757.45" y2="516.90" stroke="#4a4a4a" stroke-width="1.3"/>
<line x1="766.80" y1="512.30" x2="766.80" y2="520.60" stroke="#4a4a4a" stroke-width="1.3"/>
<line x1="776.15" y1="512.30" x2="776.15" y2="516.90" stroke="#4a4a4a" stroke-width="1.3"/>
<line x1="785.50" y1="512.30" x2="785.50" y2="516.90" stroke="#4a4a4a" stroke-width="1.3"/>
<line x1="794.85" y1="512.30" x2="794.85" y2="516.90" stroke="#4a4a4a" stroke-width="1.3"/>
<line x1="804.20" y1="512.30" x2="804.20" y2="516.90" stroke="#4a4a4a" stroke-width="1.3"/>
<line x1="813.55" y1="512.30" x2="813.55" y2="520.60" stroke="#4a4a4a" stroke-width="1.3"/>
<line x1="822.90" y1="512.30" x2="822.90" y2="516.90" stroke="#4a4a4a" stroke-width="1.3"/>
<line x1="832.25" y1="512.30" x2="832.25" y2="516.90" stroke="#4a4a4a" stroke-width="1.3"/>
<text x="619.25" y="533.20" font-size="10.4" textLength="14.57" lengthAdjust="spacingAndGlyphs" fill="#222">8.70</text>
<text x="666.00" y="533.20" font-size="10.4" textLength="14.57" lengthAdjust="spacingAndGlyphs" fill="#222">8.60</text>
<text x="712.75" y="533.20" font-size="10.4" textLength="14.57" lengthAdjust="spacingAndGlyphs" fill="#222">8.50</text>
<text x="759.50" y="533.20" font-size="10.4" textLength="14.57" lengthAdjust="spacingAndGlyphs" fill="#222">8.40</text>
<text x="806.25" y="533.20" font-size="10.4" textLength="14.57" lengthAdjust="spacingAndGlyphs" fill="#222">8.30</text>
<text x="705.32" y="542.20" font-size="8.5" textLength="1.68" lengthAdjust="spacingAndGlyphs" fill="#222">1</text>
<text x="708.61" y="546.50" font-size="10.6" textLength="28.33" lengthAdjust="spacingAndGlyphs" fill="#222">H (ppm)</text>
<line x1="601.70" y1="402.25" x2="604.90" y2="402.25" stroke="#4a4a4a" stroke-width="1.3"/>
<line x1="601.70" y1="412.50" x2="604.90" y2="412.50" stroke="#4a4a4a" stroke-width="1.3"/>
<line x1="601.70" y1="422.75" x2="604.90" y2="422.75" stroke="#4a4a4a" stroke-width="1.3"/>
<line x1="598.60" y1="433.00" x2="604.90" y2="433.00" stroke="#4a4a4a" stroke-width="1.3"/>
<line x1="601.70" y1="443.25" x2="604.90" y2="443.25" stroke="#4a4a4a" stroke-width="1.3"/>
<line x1="601.70" y1="453.50" x2="604.90" y2="453.50" stroke="#4a4a4a" stroke-width="1.3"/>
<line x1="601.70" y1="463.75" x2="604.90" y2="463.75" stroke="#4a4a4a" stroke-width="1.3"/>
<line x1="601.70" y1="474.00" x2="604.90" y2="474.00" stroke="#4a4a4a" stroke-width="1.3"/>
<line x1="598.60" y1="484.25" x2="604.90" y2="484.25" stroke="#4a4a4a" stroke-width="1.3"/>
<line x1="601.70" y1="494.50" x2="604.90" y2="494.50" stroke="#4a4a4a" stroke-width="1.3"/>
<line x1="601.70" y1="504.75" x2="604.90" y2="504.75" stroke="#4a4a4a" stroke-width="1.3"/>
<text x="585.12" y="436.50" font-size="10.4" textLength="12.49" lengthAdjust="spacingAndGlyphs" fill="#222">175</text>
<text x="585.10" y="487.75" font-size="10.4" textLength="12.49" lengthAdjust="spacingAndGlyphs" fill="#222">180</text>
<g transform="translate(571.30,451.55) rotate(-90)">
<text x="-24.23" y="-3.50" font-size="6.9" textLength="8.41" lengthAdjust="spacingAndGlyphs" fill="#222">13</text>
<text x="-14.50" y="0.00" font-size="9.0" textLength="39.23" lengthAdjust="spacingAndGlyphs" fill="#1a1a1a">C (ppm)</text>
</g>
<rect x="884.00" y="390.80" width="232.5" height="121.5" fill="none" stroke="#444444" stroke-width="1.35"/>
<rect x="945.40" y="386.50" width="26.60" height="5.00" fill="#ff1111"/>
<line x1="887.30" y1="512.30" x2="887.30" y2="516.90" stroke="#4a4a4a" stroke-width="1.3"/>
<line x1="896.65" y1="512.30" x2="896.65" y2="516.90" stroke="#4a4a4a" stroke-width="1.3"/>
<line x1="906.00" y1="512.30" x2="906.00" y2="520.60" stroke="#4a4a4a" stroke-width="1.3"/>
<line x1="915.35" y1="512.30" x2="915.35" y2="516.90" stroke="#4a4a4a" stroke-width="1.3"/>
<line x1="924.70" y1="512.30" x2="924.70" y2="516.90" stroke="#4a4a4a" stroke-width="1.3"/>
<line x1="934.05" y1="512.30" x2="934.05" y2="516.90" stroke="#4a4a4a" stroke-width="1.3"/>
<line x1="943.40" y1="512.30" x2="943.40" y2="516.90" stroke="#4a4a4a" stroke-width="1.3"/>
<line x1="952.75" y1="512.30" x2="952.75" y2="520.60" stroke="#4a4a4a" stroke-width="1.3"/>
<line x1="962.10" y1="512.30" x2="962.10" y2="516.90" stroke="#4a4a4a" stroke-width="1.3"/>
<line x1="971.45" y1="512.30" x2="971.45" y2="516.90" stroke="#4a4a4a" stroke-width="1.3"/>
<line x1="980.80" y1="512.30" x2="980.80" y2="516.90" stroke="#4a4a4a" stroke-width="1.3"/>
<line x1="990.15" y1="512.30" x2="990.15" y2="516.90" stroke="#4a4a4a" stroke-width="1.3"/>
<line x1="999.50" y1="512.30" x2="999.50" y2="520.60" stroke="#4a4a4a" stroke-width="1.3"/>
<line x1="1008.85" y1="512.30" x2="1008.85" y2="516.90" stroke="#4a4a4a" stroke-width="1.3"/>
<line x1="1018.20" y1="512.30" x2="1018.20" y2="516.90" stroke="#4a4a4a" stroke-width="1.3"/>
<line x1="1027.55" y1="512.30" x2="1027.55" y2="516.90" stroke="#4a4a4a" stroke-width="1.3"/>
<line x1="1036.90" y1="512.30" x2="1036.90" y2="516.90" stroke="#4a4a4a" stroke-width="1.3"/>
<line x1="1046.25" y1="512.30" x2="1046.25" y2="520.60" stroke="#4a4a4a" stroke-width="1.3"/>
<line x1="1055.60" y1="512.30" x2="1055.60" y2="516.90" stroke="#4a4a4a" stroke-width="1.3"/>
<line x1="1064.95" y1="512.30" x2="1064.95" y2="516.90" stroke="#4a4a4a" stroke-width="1.3"/>
<line x1="1074.30" y1="512.30" x2="1074.30" y2="516.90" stroke="#4a4a4a" stroke-width="1.3"/>
<line x1="1083.65" y1="512.30" x2="1083.65" y2="516.90" stroke="#4a4a4a" stroke-width="1.3"/>
<line x1="1093.00" y1="512.30" x2="1093.00" y2="520.60" stroke="#4a4a4a" stroke-width="1.3"/>
<line x1="1102.35" y1="512.30" x2="1102.35" y2="516.90" stroke="#4a4a4a" stroke-width="1.3"/>
<line x1="1111.70" y1="512.30" x2="1111.70" y2="516.90" stroke="#4a4a4a" stroke-width="1.3"/>
<text x="896.49" y="533.20" font-size="10.4" textLength="18.74" lengthAdjust="spacingAndGlyphs" fill="#222">115.0</text>
<text x="943.24" y="533.20" font-size="10.4" textLength="18.74" lengthAdjust="spacingAndGlyphs" fill="#222">114.0</text>
<text x="989.99" y="533.20" font-size="10.4" textLength="18.74" lengthAdjust="spacingAndGlyphs" fill="#222">113.0</text>
<text x="1036.74" y="533.20" font-size="10.4" textLength="18.74" lengthAdjust="spacingAndGlyphs" fill="#222">112.0</text>
<text x="1083.49" y="533.20" font-size="10.4" textLength="18.74" lengthAdjust="spacingAndGlyphs" fill="#222">111.0</text>
<text x="982.61" y="542.20" font-size="8.5" textLength="6.38" lengthAdjust="spacingAndGlyphs" fill="#222">15</text>
<text x="989.70" y="546.50" font-size="10.6" textLength="28.43" lengthAdjust="spacingAndGlyphs" fill="#222">N (ppm)</text>
<line x1="880.80" y1="402.25" x2="884.00" y2="402.25" stroke="#4a4a4a" stroke-width="1.3"/>
<line x1="880.80" y1="412.50" x2="884.00" y2="412.50" stroke="#4a4a4a" stroke-width="1.3"/>
<line x1="880.80" y1="422.75" x2="884.00" y2="422.75" stroke="#4a4a4a" stroke-width="1.3"/>
<line x1="877.70" y1="433.00" x2="884.00" y2="433.00" stroke="#4a4a4a" stroke-width="1.3"/>
<line x1="880.80" y1="443.25" x2="884.00" y2="443.25" stroke="#4a4a4a" stroke-width="1.3"/>
<line x1="880.80" y1="453.50" x2="884.00" y2="453.50" stroke="#4a4a4a" stroke-width="1.3"/>
<line x1="880.80" y1="463.75" x2="884.00" y2="463.75" stroke="#4a4a4a" stroke-width="1.3"/>
<line x1="880.80" y1="474.00" x2="884.00" y2="474.00" stroke="#4a4a4a" stroke-width="1.3"/>
<line x1="877.70" y1="484.25" x2="884.00" y2="484.25" stroke="#4a4a4a" stroke-width="1.3"/>
<line x1="880.80" y1="494.50" x2="884.00" y2="494.50" stroke="#4a4a4a" stroke-width="1.3"/>
<line x1="880.80" y1="504.75" x2="884.00" y2="504.75" stroke="#4a4a4a" stroke-width="1.3"/>
<text x="864.22" y="436.50" font-size="10.4" textLength="12.49" lengthAdjust="spacingAndGlyphs" fill="#222">175</text>
<text x="864.20" y="487.75" font-size="10.4" textLength="12.49" lengthAdjust="spacingAndGlyphs" fill="#222">180</text>
<g transform="translate(850.40,451.55) rotate(-90)">
<text x="-24.23" y="-3.50" font-size="6.9" textLength="8.41" lengthAdjust="spacingAndGlyphs" fill="#222">13</text>
<text x="-14.50" y="0.00" font-size="9.0" textLength="39.23" lengthAdjust="spacingAndGlyphs" fill="#1a1a1a">C (ppm)</text>
</g>
<rect x="840.50" y="369.00" width="278.40" height="181.70" fill="none" stroke="#6464f6" stroke-width="1.7"/>
<rect x="0.00" y="0.00" width="2.00" height="551.00" fill="#e8e8e8"/>
<rect x="2.00" y="0.00" width="1.00" height="551.00" fill="#dedede"/>
<rect x="0.00" y="0.00" width="1123.00" height="1.50" fill="#a8a8a8"/>
<rect x="971.00" y="0.00" width="1.20" height="1.50" fill="#d0d0d0"/>
<rect x="1118.80" y="0.00" width="4.20" height="551.00" fill="#eeeeee"/>
<line x1="1119.20" y1="0.00" x2="1119.20" y2="551.00" stroke="#c8c8c8" stroke-width="0.8"/>
<rect x="0.00" y="551.00" width="1123.00" height="29.00" fill="url(#tb)"/>
<line x1="0.00" y1="580.30" x2="1123.00" y2="580.30" stroke="#c2c2c2" stroke-width="1.2"/>
<rect x="0.00" y="580.90" width="1123.00" height="28.10" fill="url(#tb2)"/>
<line x1="0.00" y1="609.80" x2="1123.00" y2="609.80" stroke="#aaaaaa" stroke-width="1.8"/>
<rect x="0.00" y="551.00" width="2.50" height="59.00" fill="#dadada"/>
<rect x="1118.80" y="551.00" width="4.20" height="243.00" fill="#eeeeee"/>
<line x1="1119.20" y1="551.00" x2="1119.20" y2="794.00" stroke="#c4c4c4" stroke-width="0.8"/>
<rect x="7.00" y="557.80" width="32.00" height="17.50" rx="3" fill="url(#btn)" stroke="#b6b6b6" stroke-width="1"/>
<rect x="10.10" y="560.70" width="9.40" height="11.10" fill="#111" rx="1.2"/>
<rect x="11.00" y="561.80" width="2.30" height="2.60" fill="#c4c4c4"/>
<rect x="11.00" y="565.15" width="2.30" height="2.60" fill="#c4c4c4"/>
<rect x="11.00" y="568.50" width="2.30" height="2.60" fill="#c4c4c4"/>
<rect x="13.95" y="561.80" width="2.30" height="2.60" fill="#c4c4c4"/>
<rect x="13.95" y="565.15" width="2.30" height="2.60" fill="#c4c4c4"/>
<rect x="13.95" y="568.50" width="2.30" height="2.60" fill="#c4c4c4"/>
<rect x="16.90" y="561.80" width="2.30" height="2.60" fill="#c4c4c4"/>
<rect x="16.90" y="565.15" width="2.30" height="2.60" fill="#c4c4c4"/>
<rect x="16.90" y="568.50" width="2.30" height="2.60" fill="#c4c4c4"/>
<text x="22.58" y="569.90" font-size="8.4" textLength="13.67" lengthAdjust="spacingAndGlyphs" fill="#555">Table</text>
<text x="178.64" y="571.00" font-size="10.8" textLength="23.52" lengthAdjust="spacingAndGlyphs" fill="#333">Cursor:</text>
<rect x="206.00" y="558.00" width="148.60" height="16.90" rx="3" fill="url(#btn)" stroke="#b6b6b6" stroke-width="1"/>
<rect x="206.00" y="558.00" width="37.60" height="16.90" fill="url(#prs)"/>
<line x1="243.60" y1="558.00" x2="243.60" y2="575.00" stroke="#b0b0b0" stroke-width="1"/>
<line x1="285.50" y1="558.00" x2="285.50" y2="575.00" stroke="#c4c4c4" stroke-width="1"/>
<line x1="317.70" y1="558.00" x2="317.70" y2="575.00" stroke="#c4c4c4" stroke-width="1"/>
<text x="209.25" y="569.60" font-size="8.4" textLength="20.24" lengthAdjust="spacingAndGlyphs" fill="#444">Selector</text>
<path d="M233.2,560.8 L233.2,572.2 L235.6,569.9 L237.4,573.6 L239.0,572.9 L237.3,569.3 L240.3,569.2 Z" fill="#111"/>
<text x="247.32" y="569.60" font-size="8.4" textLength="23.77" lengthAdjust="spacingAndGlyphs" fill="#444">Crosshair</text>
<rect x="277.50" y="561.50" width="1.70" height="10.00" fill="#111"/>
<rect x="273.80" y="565.70" width="9.10" height="1.70" fill="#111"/>
<text x="292.37" y="569.60" font-size="8.4" textLength="11.82" lengthAdjust="spacingAndGlyphs" fill="#444">Peak</text>
<path d="M309.35,560.6 L311.6,563.6 L310.0,563.6 L310.0,568.6 L311.6,568.6 L309.35,571.6 L307.1,568.6 L308.7,568.6 L308.7,563.6 L307.1,563.6 Z" fill="#111"/>
<text x="321.21" y="569.60" font-size="8.4" textLength="18.88" lengthAdjust="spacingAndGlyphs" fill="#b4b4b4">Region</text>
<path d="M342.1,566.3 L345.1,563.9 L345.1,565.6 L349.1,565.6 L349.1,563.9 L352.1,566.3 L349.1,568.7 L349.1,567.0 L345.1,567.0 L345.1,568.7 Z" fill="#aaa"/>
<rect x="359.10" y="557.50" width="23.70" height="17.60" rx="3" fill="url(#btn)" stroke="#b6b6b6" stroke-width="1"/>
<text x="363.61" y="571.00" font-size="10.8" textLength="5.56" lengthAdjust="spacingAndGlyphs" fill="#444">X</text>
<path d="M374.30,565.20 L378.70,565.20 L376.50,568.00Z" fill="#444"/>
<rect x="387.00" y="557.50" width="45.70" height="17.60" rx="2" fill="#fff" stroke="#bdbdbd" stroke-width="1"/>
<text x="390.23" y="570.80" font-size="10.8" textLength="27.15" lengthAdjust="spacingAndGlyphs" fill="#333">115.497</text>
<rect x="425.70" y="561.20" width="6.30" height="10.40" fill="#cfcfcf"/>
<rect x="425.70" y="561.20" width="1.30" height="10.40" fill="#222"/>
<rect x="437.50" y="557.00" width="46.40" height="18.10" rx="2" fill="#fff" stroke="#bdbdbd" stroke-width="1"/>
<text x="440.63" y="570.80" font-size="10.8" textLength="27.15" lengthAdjust="spacingAndGlyphs" fill="#e8282a">110.497</text>
<rect x="475.60" y="561.20" width="6.80" height="10.40" fill="#cfcfcf"/>
<rect x="481.00" y="561.20" width="1.40" height="10.40" fill="#e82020"/>
<rect x="488.40" y="557.00" width="23.40" height="18.10" rx="3" fill="url(#btn)" stroke="#b6b6b6" stroke-width="1"/>
<text x="492.12" y="570.50" font-size="10.8" textLength="5.35" lengthAdjust="spacingAndGlyphs" fill="#444">Y</text>
<path d="M502.00,564.95 L506.40,564.95 L504.20,567.75Z" fill="#444"/>
<rect x="516.00" y="557.00" width="45.70" height="18.10" rx="2" fill="#fff" stroke="#bdbdbd" stroke-width="1"/>
<text x="518.72" y="570.80" font-size="10.8" textLength="27.67" lengthAdjust="spacingAndGlyphs" fill="#333">182.737</text>
<rect x="554.20" y="561.20" width="6.80" height="10.40" fill="#cfcfcf"/>
<rect x="554.20" y="570.30" width="6.80" height="1.30" fill="#222"/>
<rect x="565.90" y="557.00" width="46.10" height="18.10" rx="2" fill="#fff" stroke="#bdbdbd" stroke-width="1"/>
<text x="569.11" y="570.80" font-size="10.8" textLength="27.88" lengthAdjust="spacingAndGlyphs" fill="#e8282a">170.897</text>
<rect x="604.00" y="561.20" width="6.80" height="10.40" fill="#cfcfcf"/>
<rect x="604.00" y="561.20" width="6.80" height="1.30" fill="#e82020"/>
<rect x="752.60" y="556.70" width="23.90" height="18.60" rx="3" fill="url(#btn)" stroke="#b6b6b6" stroke-width="1"/>
<text x="756.73" y="570.20" font-size="10.8" textLength="5.24" lengthAdjust="spacingAndGlyphs" fill="#444">Z</text>
<path d="M767.60,564.90 L772.00,564.90 L769.80,567.70Z" fill="#444"/>
<rect x="780.50" y="557.00" width="49.30" height="18.10" rx="2" fill="#fff" stroke="#c4c4c4" stroke-width="1"/>
<rect x="815.20" y="557.00" width="14.60" height="18.10" fill="url(#btn)" stroke="#c0c0c0" stroke-width="1"/>
<line x1="815.20" y1="566.05" x2="830.30" y2="566.05" stroke="#c0c0c0" stroke-width="1"/>
<path d="M820.25,562.88 L825.25,562.88 L822.75,559.27Z" fill="#444"/>
<path d="M820.25,569.42 L825.25,569.42 L822.75,573.02Z" fill="#444"/>
<text x="783.90" y="569.65" font-size="10.8" textLength="13.03" lengthAdjust="spacingAndGlyphs" fill="#333">128</text>
<rect x="834.00" y="557.00" width="49.40" height="18.10" rx="2" fill="#fff" stroke="#c4c4c4" stroke-width="1"/>
<rect x="869.10" y="557.00" width="14.30" height="18.10" fill="url(#btn)" stroke="#c0c0c0" stroke-width="1"/>
<line x1="869.10" y1="566.05" x2="883.90" y2="566.05" stroke="#c0c0c0" stroke-width="1"/>
<path d="M874.00,562.88 L879.00,562.88 L876.50,559.27Z" fill="#444"/>
<path d="M874.00,569.42 L879.00,569.42 L876.50,573.02Z" fill="#444"/>
<text x="837.41" y="569.65" font-size="10.8" textLength="12.93" lengthAdjust="spacingAndGlyphs" fill="#333">128</text>
<rect x="888.00" y="560.30" width="8.20" height="12.70" rx="2" fill="url(#chk)" stroke="#bcbcbc" stroke-width="1"/>
<text x="900.27" y="570.50" font-size="10.8" textLength="5.07" lengthAdjust="spacingAndGlyphs" fill="#333">V</text>
<rect x="1044.90" y="560.00" width="8.30" height="13.20" rx="2" fill="url(#chk)" stroke="#bcbcbc" stroke-width="1"/>
<text x="1057.48" y="570.70" font-size="10.8" textLength="18.88" lengthAdjust="spacingAndGlyphs" fill="#333">Slices</text>
<rect x="1079.90" y="557.00" width="34.60" height="17.90" rx="3" fill="url(#btn)" stroke="#b6b6b6" stroke-width="1"/>
<text x="1083.70" y="569.60" font-size="11.2" textLength="26.26" lengthAdjust="spacingAndGlyphs" fill="#333">Phasing</text>
<rect x="7.00" y="585.80" width="36.90" height="19.40" rx="3" fill="url(#btn)" stroke="#b6b6b6" stroke-width="1"/>
<text x="11.74" y="599.60" font-size="12.2" textLength="17.52" lengthAdjust="spacingAndGlyphs" fill="#444">Tools</text>
<path d="M34.60,593.95 L39.20,593.95 L36.90,596.85Z" fill="#555"/>
<rect x="0.00" y="610.70" width="1123.00" height="183.30" fill="#f2f2f2"/>
<rect x="0.00" y="610.70" width="1119.00" height="3.30" fill="#f7f7f7"/>
<line x1="21.00" y1="614.80" x2="1119.00" y2="614.80" stroke="#d2d2d2" stroke-width="1.4"/>
<rect x="0.00" y="610.70" width="2.50" height="183.30" fill="#dadada"/>
<rect x="2.50" y="615.50" width="18.60" height="177.00" fill="#dcdcdc"/>
<line x1="21.30" y1="613.60" x2="21.30" y2="792.50" stroke="#c8c8c8" stroke-width="0.8"/>
<rect x="0.00" y="792.20" width="1123.00" height="1.80" fill="#bcbcbc"/>
<rect x="1118.80" y="610.70" width="4.20" height="183.30" fill="#eeeeee"/>
<line x1="1119.20" y1="610.70" x2="1119.20" y2="794.00" stroke="#c4c4c4" stroke-width="0.8"/>
<path d="M21.1,621.1 L9.3,621.1 Q6.8,621.1 6.8,623.6 L6.8,650.4 Q6.8,652.9 9.3,652.9 L21.1,652.9 Z" fill="#f7f7f7" stroke="#c8c8c8" stroke-width="0.8"/>
<path d="M21.1,655.1 L9.3,655.1 Q6.8,655.1 6.8,657.6 L6.8,707.0 Q6.8,709.5 9.3,709.5 L21.1,709.5 Z" fill="#e9e9e9" stroke="#c8c8c8" stroke-width="0.8"/>
<g transform="translate(17.3,649.1) rotate(-90)"><text x="0" y="0" font-size="9.6" fill="#333" textLength="24.1" lengthAdjust="spacingAndGlyphs">Helm</text></g>
<g transform="translate(17.4,704.2) rotate(-90)"><text x="0" y="0" font-size="9.6" fill="#444" textLength="44.5" lengthAdjust="spacingAndGlyphs">Configure</text></g>
<rect x="21.60" y="615.50" width="1097.20" height="29.70" fill="url(#tb)"/>
<line x1="21.60" y1="645.90" x2="1118.80" y2="645.90" stroke="#c8c8c8" stroke-width="1.4"/>
<rect x="25.80" y="620.50" width="38.20" height="20.40" rx="3" fill="url(#btn)" stroke="#b6b6b6" stroke-width="1"/>
<ellipse cx="33.9" cy="630.75" rx="4.0" ry="6.1" fill="#111"/>
<rect x="31.40" y="629.90" width="5.00" height="1.70" fill="#fff"/>
<text x="41.42" y="635.20" font-size="11.2" textLength="18.31" lengthAdjust="spacingAndGlyphs" fill="#222" font-weight="bold">Close</text>
<rect x="67.70" y="620.50" width="31.10" height="20.40" rx="3" fill="url(#btn)" stroke="#2a9ad6" stroke-width="1"/>
<rect x="68.2" y="621.0" width="30.1" height="19.4" rx="2.5" fill="none" stroke="#8cc8ea" stroke-width="0.8"/>
<text x="71.85" y="635.20" font-size="11.2" textLength="12.31" lengthAdjust="spacingAndGlyphs" fill="#333">List</text>
<path d="M89.30,629.50 L93.70,629.50 L91.50,632.30Z" fill="#444"/>
<rect x="102.80" y="620.50" width="64.20" height="20.40" rx="3" fill="url(#btn)" stroke="#b6b6b6" stroke-width="1"/>
<text x="107.29" y="635.20" font-size="11.2" textLength="45.07" lengthAdjust="spacingAndGlyphs" fill="#333">Arrangements</text>
<path d="M158.20,629.50 L162.60,629.50 L160.40,632.30Z" fill="#444"/>
<rect x="171.30" y="620.50" width="42.70" height="20.40" rx="3" fill="url(#btn)" stroke="#b6b6b6" stroke-width="1"/>
<text x="175.79" y="635.20" font-size="11.2" textLength="24.38" lengthAdjust="spacingAndGlyphs" fill="#333">Actions</text>
<path d="M205.30,629.50 L209.70,629.50 L207.50,632.30Z" fill="#444"/>
<rect x="411.90" y="620.90" width="16.10" height="20.00" rx="3" fill="url(#btn)" stroke="#b6b6b6" stroke-width="1"/>
<rect x="432.50" y="620.90" width="15.40" height="20.00" rx="3" fill="url(#btn)" stroke="#b6b6b6" stroke-width="1"/>
<rect x="452.20" y="620.90" width="15.70" height="20.00" rx="3" fill="url(#btn)" stroke="#b6b6b6" stroke-width="1"/>
<rect x="472.00" y="620.90" width="15.80" height="20.00" rx="3" fill="url(#btn)" stroke="#b6b6b6" stroke-width="1"/>
<path d="M415.0,625.3 L416.6,625.3 L416.6,637.1 L415.0,637.1Z M416.60,631.20 L420.80,625.30 L420.80,637.10Z M420.60,631.20 L424.90,625.30 L424.90,637.10Z " fill="#111"/>
<path d="M435.60,631.20 L440.20,625.30 L440.20,637.10Z M440.20,631.20 L444.90,625.30 L444.90,637.10Z " fill="#111"/>
<path d="M459.50,631.20 L454.90,625.30 L454.90,637.10Z M464.10,631.20 L459.50,625.30 L459.50,637.10Z " fill="#111"/>
<path d="M478.60,631.20 L474.50,625.30 L474.50,637.10Z M482.80,631.20 L478.60,625.30 L478.60,637.10Z M483.2,625.3 L484.9,625.3 L484.9,637.1 L483.2,637.1Z" fill="#111"/>
<rect x="492.40" y="620.90" width="46.00" height="20.00" rx="2" fill="#fff" stroke="#bdbdbd" stroke-width="1"/>
<text x="495.87" y="635.00" font-size="10.8" textLength="4.65" lengthAdjust="spacingAndGlyphs" fill="#555">0</text>
<rect x="542.50" y="620.90" width="14.80" height="20.00" rx="3" fill="url(#btn)" stroke="#b6b6b6" stroke-width="1"/>
<ellipse cx="549.95" cy="631.6" rx="3.9" ry="4.0" fill="none" stroke="#111" stroke-width="1.5"/>
<line x1="546.60" y1="636.00" x2="553.30" y2="627.20" stroke="#111" stroke-width="1.5"/>
<rect x="562.10" y="620.90" width="74.50" height="20.00" rx="3" fill="url(#btn)" stroke="#b6b6b6" stroke-width="1"/>
<text x="565.89" y="635.00" font-size="10.8" textLength="12.45" lengthAdjust="spacingAndGlyphs" fill="#333">ALL</text>
<path d="M626.80,629.60 L631.20,629.60 L629.00,632.40Z" fill="#444"/>
<rect x="640.70" y="620.90" width="71.40" height="20.00" rx="3" fill="url(#btn)" stroke="#b6b6b6" stroke-width="1"/>
<text x="644.77" y="635.00" font-size="10.8" textLength="51.89" lengthAdjust="spacingAndGlyphs" fill="#333">SpinSys Actions</text>
<path d="M702.40,629.60 L706.80,629.60 L704.60,632.40Z" fill="#444"/>
<rect x="718.1" y="628.3" width="82.9" height="3.4" rx="1.7" fill="#e8e8e8" stroke="#b0b0b0" stroke-width="0.8"/>
<circle cx="726.4" cy="630.0" r="5.0" fill="url(#btn)" stroke="#9a9a9a" stroke-width="0.9"/>
<text x="806.34" y="634.00" font-size="10.4" textLength="9.29" lengthAdjust="spacingAndGlyphs" fill="#333">0.1</text>
<rect x="175.10" y="648.00" width="37.20" height="18.20" rx="2" fill="#f6f6f6" stroke="#dadada" stroke-width="1"/>
<rect x="197.60" y="648.00" width="14.70" height="18.20" fill="url(#btn)" stroke="#dddddd" stroke-width="1"/>
<line x1="197.60" y1="657.10" x2="212.80" y2="657.10" stroke="#dddddd" stroke-width="1"/>
<path d="M202.70,653.90 L207.70,653.90 L205.20,650.30Z" fill="#b8b8b8"/>
<path d="M202.70,660.50 L207.70,660.50 L205.20,664.10Z" fill="#b8b8b8"/>
<text x="178.67" y="660.70" font-size="10.8" textLength="4.65" lengthAdjust="spacingAndGlyphs" fill="#c4c4c4">0</text>
<text x="213.24" y="657.40" font-size="10.4" textLength="15.49" lengthAdjust="spacingAndGlyphs" fill="#333">Sys:</text>
<rect x="228.80" y="648.0" width="30.20" height="18.2" rx="2" fill="#e4e4e4" stroke="#d0d0d0" stroke-width="1"/>
<text x="260.56" y="657.40" font-size="10.4" textLength="31.83" lengthAdjust="spacingAndGlyphs" fill="#333">Score:0.0</text>
<text x="314.43" y="657.40" font-size="10.4" textLength="12.80" lengthAdjust="spacingAndGlyphs" fill="#333">N:0</text>
<text x="339.59" y="657.40" font-size="10.4" textLength="17.39" lengthAdjust="spacingAndGlyphs" fill="#333">RAV:</text>
<rect x="408.30" y="648.00" width="8.90" height="11.90" rx="2" fill="url(#chk)" stroke="#c8c8c8" stroke-width="1"/>
<rect x="723.90" y="648.00" width="36.60" height="18.20" rx="2" fill="#f6f6f6" stroke="#dadada" stroke-width="1"/>
<rect x="746.40" y="648.00" width="14.10" height="18.20" fill="url(#btn)" stroke="#dddddd" stroke-width="1"/>
<line x1="746.40" y1="657.10" x2="761.00" y2="657.10" stroke="#dddddd" stroke-width="1"/>
<path d="M751.20,653.90 L756.20,653.90 L753.70,650.30Z" fill="#b8b8b8"/>
<path d="M751.20,660.50 L756.20,660.50 L753.70,664.10Z" fill="#b8b8b8"/>
<text x="727.47" y="660.70" font-size="10.8" textLength="4.65" lengthAdjust="spacingAndGlyphs" fill="#c4c4c4">0</text>
<text x="761.72" y="657.40" font-size="10.4" textLength="16.24" lengthAdjust="spacingAndGlyphs" fill="#333">Sys:</text>
<rect x="777.70" y="648.0" width="30.30" height="18.2" rx="2" fill="#e4e4e4" stroke="#d0d0d0" stroke-width="1"/>
<text x="809.66" y="657.40" font-size="10.4" textLength="31.83" lengthAdjust="spacingAndGlyphs" fill="#333">Score:0.0</text>
<text x="863.09" y="657.40" font-size="10.4" textLength="13.55" lengthAdjust="spacingAndGlyphs" fill="#333">N:0</text>
<text x="887.65" y="657.40" font-size="10.4" textLength="18.36" lengthAdjust="spacingAndGlyphs" fill="#333">RAV:</text>
<rect x="956.60" y="648.00" width="9.60" height="11.90" rx="2" fill="url(#chk)" stroke="#c8c8c8" stroke-width="1"/>
<text x="476.77" y="678.00" font-size="10.4" textLength="3.74" lengthAdjust="spacingAndGlyphs" fill="#333">c</text>
<text x="505.19" y="678.00" font-size="10.4" textLength="7.91" lengthAdjust="spacingAndGlyphs" fill="#333">ca</text>
<text x="534.04" y="678.00" font-size="10.4" textLength="7.91" lengthAdjust="spacingAndGlyphs" fill="#333">cb</text>
<text x="562.69" y="678.00" font-size="10.4" textLength="5.41" lengthAdjust="spacingAndGlyphs" fill="#333">H</text>
<text x="591.39" y="678.00" font-size="10.4" textLength="5.41" lengthAdjust="spacingAndGlyphs" fill="#333">N</text>
<text x="619.75" y="678.00" font-size="10.4" textLength="5.41" lengthAdjust="spacingAndGlyphs" fill="#333">C</text>
<text x="648.32" y="678.00" font-size="10.4" textLength="10.40" lengthAdjust="spacingAndGlyphs" fill="#333">CA</text>
<text x="677.21" y="678.00" font-size="10.4" textLength="10.40" lengthAdjust="spacingAndGlyphs" fill="#333">CB</text>
<rect x="162.80" y="672.10" width="13.00" height="36.10" fill="#9c9c9c"/>
<rect x="180.63" y="672.10" width="13.00" height="36.10" fill="#9c9c9c"/>
<rect x="198.46" y="672.10" width="13.00" height="36.10" fill="#9c9c9c"/>
<rect x="216.29" y="672.10" width="13.00" height="36.10" fill="#9c9c9c"/>
<rect x="234.12" y="672.10" width="13.00" height="36.10" fill="#9c9c9c"/>
<rect x="251.95" y="672.10" width="13.00" height="36.10" fill="#9c9c9c"/>
<rect x="269.78" y="672.10" width="13.00" height="36.10" fill="#9c9c9c"/>
<rect x="287.61" y="672.10" width="13.00" height="36.10" fill="#9c9c9c"/>
<rect x="305.44" y="672.10" width="13.00" height="36.10" fill="#9c9c9c"/>
<rect x="323.27" y="672.10" width="13.00" height="36.10" fill="#9c9c9c"/>
<rect x="847.70" y="672.10" width="13.00" height="36.10" fill="#9c9c9c"/>
<rect x="865.53" y="672.10" width="13.00" height="36.10" fill="#9c9c9c"/>
<rect x="883.36" y="672.10" width="13.00" height="36.10" fill="#9c9c9c"/>
<rect x="901.19" y="672.10" width="13.00" height="36.10" fill="#9c9c9c"/>
<rect x="919.02" y="672.10" width="13.00" height="36.10" fill="#9c9c9c"/>
<rect x="936.85" y="672.10" width="13.00" height="36.10" fill="#9c9c9c"/>
<rect x="954.68" y="672.10" width="13.00" height="36.10" fill="#9c9c9c"/>
<rect x="972.51" y="672.10" width="13.00" height="36.10" fill="#9c9c9c"/>
<rect x="990.34" y="672.10" width="13.00" height="36.10" fill="#9c9c9c"/>
<rect x="1008.17" y="672.10" width="13.00" height="36.10" fill="#9c9c9c"/>
<rect x="48.30" y="716.10" width="972.70" height="11.60" fill="#dadada"/>
<rect x="41.10" y="716.10" width="7.20" height="11.60" fill="#ffffff"/>
<text x="42.44" y="725.60" font-size="10.6" textLength="4.13" lengthAdjust="spacingAndGlyphs" fill="#333">0</text>
<text x="49.44" y="725.60" font-size="10.6" textLength="4.13" lengthAdjust="spacingAndGlyphs" fill="#333">1</text>
<text x="56.64" y="725.60" font-size="10.6" textLength="4.13" lengthAdjust="spacingAndGlyphs" fill="#333">2</text>
<text x="63.76" y="725.60" font-size="10.6" textLength="4.13" lengthAdjust="spacingAndGlyphs" fill="#333">3</text>
<text x="70.86" y="725.60" font-size="10.6" textLength="4.13" lengthAdjust="spacingAndGlyphs" fill="#333">4</text>
<text x="77.94" y="725.60" font-size="10.6" textLength="4.13" lengthAdjust="spacingAndGlyphs" fill="#333">5</text>
<text x="85.01" y="725.60" font-size="10.6" textLength="4.13" lengthAdjust="spacingAndGlyphs" fill="#333">6</text>
<text x="92.13" y="725.60" font-size="10.6" textLength="4.13" lengthAdjust="spacingAndGlyphs" fill="#333">7</text>
<text x="99.24" y="725.60" font-size="10.6" textLength="4.13" lengthAdjust="spacingAndGlyphs" fill="#333">8</text>
<text x="106.34" y="725.60" font-size="10.6" textLength="4.13" lengthAdjust="spacingAndGlyphs" fill="#333">9</text>
<text x="110.34" y="725.60" font-size="10.6" textLength="8.25" lengthAdjust="spacingAndGlyphs" fill="#333">10</text>
<text x="126.12" y="725.60" font-size="10.6" textLength="8.25" lengthAdjust="spacingAndGlyphs" fill="#333">11</text>
<text x="140.38" y="725.60" font-size="10.6" textLength="8.25" lengthAdjust="spacingAndGlyphs" fill="#333">12</text>
<text x="154.60" y="725.60" font-size="10.6" textLength="8.25" lengthAdjust="spacingAndGlyphs" fill="#333">13</text>
<text x="168.80" y="725.60" font-size="10.6" textLength="8.25" lengthAdjust="spacingAndGlyphs" fill="#333">14</text>
<text x="183.10" y="725.60" font-size="10.6" textLength="8.25" lengthAdjust="spacingAndGlyphs" fill="#333">15</text>
<text x="197.35" y="725.60" font-size="10.6" textLength="8.25" lengthAdjust="spacingAndGlyphs" fill="#333">16</text>
<text x="211.63" y="725.60" font-size="10.6" textLength="8.25" lengthAdjust="spacingAndGlyphs" fill="#333">17</text>
<text x="225.85" y="725.60" font-size="10.6" textLength="8.25" lengthAdjust="spacingAndGlyphs" fill="#333">18</text>
<text x="240.12" y="725.60" font-size="10.6" textLength="8.25" lengthAdjust="spacingAndGlyphs" fill="#333">19</text>
<text x="254.43" y="725.60" font-size="10.6" textLength="8.25" lengthAdjust="spacingAndGlyphs" fill="#333">20</text>
<text x="268.72" y="725.60" font-size="10.6" textLength="8.25" lengthAdjust="spacingAndGlyphs" fill="#333">21</text>
<text x="282.97" y="725.60" font-size="10.6" textLength="8.25" lengthAdjust="spacingAndGlyphs" fill="#333">22</text>
<text x="297.20" y="725.60" font-size="10.6" textLength="8.25" lengthAdjust="spacingAndGlyphs" fill="#333">23</text>
<text x="311.40" y="725.60" font-size="10.6" textLength="8.25" lengthAdjust="spacingAndGlyphs" fill="#333">24</text>
<text x="325.69" y="725.60" font-size="10.6" textLength="8.25" lengthAdjust="spacingAndGlyphs" fill="#333">25</text>
<text x="339.95" y="725.60" font-size="10.6" textLength="8.25" lengthAdjust="spacingAndGlyphs" fill="#333">26</text>
<text x="354.22" y="725.60" font-size="10.6" textLength="8.25" lengthAdjust="spacingAndGlyphs" fill="#333">27</text>
<text x="368.45" y="725.60" font-size="10.6" textLength="8.25" lengthAdjust="spacingAndGlyphs" fill="#333">28</text>
<text x="382.71" y="725.60" font-size="10.6" textLength="8.25" lengthAdjust="spacingAndGlyphs" fill="#333">29</text>
<text x="396.98" y="725.60" font-size="10.6" textLength="8.25" lengthAdjust="spacingAndGlyphs" fill="#333">30</text>
<text x="411.26" y="725.60" font-size="10.6" textLength="8.25" lengthAdjust="spacingAndGlyphs" fill="#333">31</text>
<text x="425.52" y="725.60" font-size="10.6" textLength="8.25" lengthAdjust="spacingAndGlyphs" fill="#333">32</text>
<text x="439.75" y="725.60" font-size="10.6" textLength="8.25" lengthAdjust="spacingAndGlyphs" fill="#333">33</text>
<text x="453.94" y="725.60" font-size="10.6" textLength="8.25" lengthAdjust="spacingAndGlyphs" fill="#333">34</text>
<text x="468.24" y="725.60" font-size="10.6" textLength="8.25" lengthAdjust="spacingAndGlyphs" fill="#333">35</text>
<text x="482.50" y="725.60" font-size="10.6" textLength="8.25" lengthAdjust="spacingAndGlyphs" fill="#333">36</text>
<text x="496.77" y="725.60" font-size="10.6" textLength="8.25" lengthAdjust="spacingAndGlyphs" fill="#333">37</text>
<text x="510.99" y="725.60" font-size="10.6" textLength="8.25" lengthAdjust="spacingAndGlyphs" fill="#333">38</text>
<text x="525.26" y="725.60" font-size="10.6" textLength="8.25" lengthAdjust="spacingAndGlyphs" fill="#333">39</text>
<text x="539.53" y="725.60" font-size="10.6" textLength="8.25" lengthAdjust="spacingAndGlyphs" fill="#333">40</text>
<text x="553.82" y="725.60" font-size="10.6" textLength="8.25" lengthAdjust="spacingAndGlyphs" fill="#333">41</text>
<text x="568.07" y="725.60" font-size="10.6" textLength="8.25" lengthAdjust="spacingAndGlyphs" fill="#333">42</text>
<text x="582.30" y="725.60" font-size="10.6" textLength="8.25" lengthAdjust="spacingAndGlyphs" fill="#333">43</text>
<text x="596.50" y="725.60" font-size="10.6" textLength="8.25" lengthAdjust="spacingAndGlyphs" fill="#333">44</text>
<text x="610.79" y="725.60" font-size="10.6" textLength="8.25" lengthAdjust="spacingAndGlyphs" fill="#333">45</text>
<text x="625.05" y="725.60" font-size="10.6" textLength="8.25" lengthAdjust="spacingAndGlyphs" fill="#333">46</text>
<text x="639.32" y="725.60" font-size="10.6" textLength="8.25" lengthAdjust="spacingAndGlyphs" fill="#333">47</text>
<text x="653.55" y="725.60" font-size="10.6" textLength="8.25" lengthAdjust="spacingAndGlyphs" fill="#333">48</text>
<text x="667.81" y="725.60" font-size="10.6" textLength="8.25" lengthAdjust="spacingAndGlyphs" fill="#333">49</text>
<text x="681.97" y="725.60" font-size="10.6" textLength="8.25" lengthAdjust="spacingAndGlyphs" fill="#333">50</text>
<text x="696.26" y="725.60" font-size="10.6" textLength="8.25" lengthAdjust="spacingAndGlyphs" fill="#333">51</text>
<text x="710.51" y="725.60" font-size="10.6" textLength="8.25" lengthAdjust="spacingAndGlyphs" fill="#333">52</text>
<text x="724.74" y="725.60" font-size="10.6" textLength="8.25" lengthAdjust="spacingAndGlyphs" fill="#333">53</text>
<text x="738.93" y="725.60" font-size="10.6" textLength="8.25" lengthAdjust="spacingAndGlyphs" fill="#333">54</text>
<text x="753.23" y="725.60" font-size="10.6" textLength="8.25" lengthAdjust="spacingAndGlyphs" fill="#333">55</text>
<text x="767.49" y="725.60" font-size="10.6" textLength="8.25" lengthAdjust="spacingAndGlyphs" fill="#333">56</text>
<text x="781.76" y="725.60" font-size="10.6" textLength="8.25" lengthAdjust="spacingAndGlyphs" fill="#333">57</text>
<text x="795.99" y="725.60" font-size="10.6" textLength="8.25" lengthAdjust="spacingAndGlyphs" fill="#333">58</text>
<text x="810.25" y="725.60" font-size="10.6" textLength="8.25" lengthAdjust="spacingAndGlyphs" fill="#333">59</text>
<text x="824.43" y="725.60" font-size="10.6" textLength="8.25" lengthAdjust="spacingAndGlyphs" fill="#333">60</text>
<text x="838.72" y="725.60" font-size="10.6" textLength="8.25" lengthAdjust="spacingAndGlyphs" fill="#333">61</text>
<text x="852.97" y="725.60" font-size="10.6" textLength="8.25" lengthAdjust="spacingAndGlyphs" fill="#333">62</text>
<text x="867.20" y="725.60" font-size="10.6" textLength="8.25" lengthAdjust="spacingAndGlyphs" fill="#333">63</text>
<text x="881.39" y="725.60" font-size="10.6" textLength="8.25" lengthAdjust="spacingAndGlyphs" fill="#333">64</text>
<text x="895.69" y="725.60" font-size="10.6" textLength="8.25" lengthAdjust="spacingAndGlyphs" fill="#333">65</text>
<text x="909.95" y="725.60" font-size="10.6" textLength="8.25" lengthAdjust="spacingAndGlyphs" fill="#333">66</text>
<text x="924.22" y="725.60" font-size="10.6" textLength="8.25" lengthAdjust="spacingAndGlyphs" fill="#333">67</text>
<text x="938.45" y="725.60" font-size="10.6" textLength="8.25" lengthAdjust="spacingAndGlyphs" fill="#333">68</text>
<text x="952.71" y="725.60" font-size="10.6" textLength="8.25" lengthAdjust="spacingAndGlyphs" fill="#333">69</text>
<text x="966.93" y="725.60" font-size="10.6" textLength="8.25" lengthAdjust="spacingAndGlyphs" fill="#333">70</text>
<text x="981.21" y="725.60" font-size="10.6" textLength="8.25" lengthAdjust="spacingAndGlyphs" fill="#333">71</text>
<text x="995.47" y="725.60" font-size="10.6" textLength="8.25" lengthAdjust="spacingAndGlyphs" fill="#333">72</text>
<text x="1009.70" y="725.60" font-size="10.6" textLength="8.25" lengthAdjust="spacingAndGlyphs" fill="#333">73</text>
<rect x="34.00" y="748.00" width="131.00" height="17.00" fill="#d8d8d8"/>
<rect x="166.40" y="748.00" width="120.80" height="17.00" fill="#d8d8d8"/>
<rect x="288.60" y="748.00" width="121.90" height="17.00" fill="#d8d8d8"/>
<rect x="411.50" y="748.00" width="120.20" height="17.00" fill="#d8d8d8"/>
<rect x="533.00" y="748.00" width="121.10" height="17.00" fill="#d8d8d8"/>
<rect x="655.30" y="748.00" width="121.30" height="17.00" fill="#d8d8d8"/>
<rect x="777.50" y="748.00" width="121.30" height="17.00" fill="#d8d8d8"/>
<rect x="899.80" y="748.00" width="60.60" height="17.00" fill="#d8d8d8"/>
<text x="36.65" y="759.60" font-size="10.0" textLength="4.00" lengthAdjust="spacingAndGlyphs" fill="#222">1</text>
<text x="44.94" y="761.80" font-size="13.4" textLength="7.81" lengthAdjust="spacingAndGlyphs" fill="#1e1e1e" stroke="#1e1e1e" stroke-width="0.3">M</text>
<text x="55.40" y="761.80" font-size="13.4" textLength="7.30" lengthAdjust="spacingAndGlyphs" fill="#1e1e1e" stroke="#1e1e1e" stroke-width="0.3">Q</text>
<text x="67.95" y="761.80" font-size="13.4" textLength="2.61" lengthAdjust="spacingAndGlyphs" fill="#1e1e1e" stroke="#1e1e1e" stroke-width="0.3">I</text>
<text x="76.39" y="761.80" font-size="13.4" textLength="5.73" lengthAdjust="spacingAndGlyphs" fill="#1e1e1e" stroke="#1e1e1e" stroke-width="0.3">F</text>
<text x="86.52" y="761.80" font-size="13.4" textLength="6.26" lengthAdjust="spacingAndGlyphs" fill="#1e1e1e" stroke="#1e1e1e" stroke-width="0.3">V</text>
<text x="96.39" y="761.80" font-size="13.4" textLength="6.26" lengthAdjust="spacingAndGlyphs" fill="#1e1e1e" stroke="#1e1e1e" stroke-width="0.3">K</text>
<text x="107.19" y="761.80" font-size="13.4" textLength="5.73" lengthAdjust="spacingAndGlyphs" fill="#1e1e1e" stroke="#1e1e1e" stroke-width="0.3">T</text>
<text x="117.41" y="761.80" font-size="13.4" textLength="5.22" lengthAdjust="spacingAndGlyphs" fill="#1e1e1e" stroke="#1e1e1e" stroke-width="0.3">L</text>
<text x="127.59" y="761.80" font-size="13.4" textLength="5.73" lengthAdjust="spacingAndGlyphs" fill="#1e1e1e" stroke="#1e1e1e" stroke-width="0.3">T</text>
<text x="137.12" y="761.80" font-size="13.4" textLength="7.30" lengthAdjust="spacingAndGlyphs" fill="#1e1e1e" stroke="#1e1e1e" stroke-width="0.3">G</text>
<text x="151.47" y="759.60" font-size="10.0" textLength="6.90" lengthAdjust="spacingAndGlyphs" fill="#222">11</text>
<text x="168.14" y="761.80" font-size="13.4" textLength="6.26" lengthAdjust="spacingAndGlyphs" fill="#1e1e1e" stroke="#1e1e1e" stroke-width="0.3">K</text>
<text x="178.94" y="761.80" font-size="13.4" textLength="5.73" lengthAdjust="spacingAndGlyphs" fill="#1e1e1e" stroke="#1e1e1e" stroke-width="0.3">T</text>
<text x="190.70" y="761.80" font-size="13.4" textLength="2.61" lengthAdjust="spacingAndGlyphs" fill="#1e1e1e" stroke="#1e1e1e" stroke-width="0.3">I</text>
<text x="199.34" y="761.80" font-size="13.4" textLength="5.73" lengthAdjust="spacingAndGlyphs" fill="#1e1e1e" stroke="#1e1e1e" stroke-width="0.3">T</text>
<text x="209.56" y="761.80" font-size="13.4" textLength="5.22" lengthAdjust="spacingAndGlyphs" fill="#1e1e1e" stroke="#1e1e1e" stroke-width="0.3">L</text>
<text x="219.29" y="761.80" font-size="13.4" textLength="6.26" lengthAdjust="spacingAndGlyphs" fill="#1e1e1e" stroke="#1e1e1e" stroke-width="0.3">E</text>
<text x="229.67" y="761.80" font-size="13.4" textLength="6.26" lengthAdjust="spacingAndGlyphs" fill="#1e1e1e" stroke="#1e1e1e" stroke-width="0.3">V</text>
<text x="239.69" y="761.80" font-size="13.4" textLength="6.26" lengthAdjust="spacingAndGlyphs" fill="#1e1e1e" stroke="#1e1e1e" stroke-width="0.3">E</text>
<text x="249.93" y="761.80" font-size="13.4" textLength="6.26" lengthAdjust="spacingAndGlyphs" fill="#1e1e1e" stroke="#1e1e1e" stroke-width="0.3">P</text>
<text x="260.27" y="761.80" font-size="13.4" textLength="6.26" lengthAdjust="spacingAndGlyphs" fill="#1e1e1e" stroke="#1e1e1e" stroke-width="0.3">S</text>
<text x="273.85" y="759.60" font-size="10.0" textLength="6.90" lengthAdjust="spacingAndGlyphs" fill="#222">21</text>
<text x="290.25" y="761.80" font-size="13.4" textLength="6.77" lengthAdjust="spacingAndGlyphs" fill="#1e1e1e" stroke="#1e1e1e" stroke-width="0.3">D</text>
<text x="301.14" y="761.80" font-size="13.4" textLength="5.73" lengthAdjust="spacingAndGlyphs" fill="#1e1e1e" stroke="#1e1e1e" stroke-width="0.3">T</text>
<text x="312.90" y="761.80" font-size="13.4" textLength="2.61" lengthAdjust="spacingAndGlyphs" fill="#1e1e1e" stroke="#1e1e1e" stroke-width="0.3">I</text>
<text x="321.09" y="761.80" font-size="13.4" textLength="6.26" lengthAdjust="spacingAndGlyphs" fill="#1e1e1e" stroke="#1e1e1e" stroke-width="0.3">E</text>
<text x="331.21" y="761.80" font-size="13.4" textLength="6.77" lengthAdjust="spacingAndGlyphs" fill="#1e1e1e" stroke="#1e1e1e" stroke-width="0.3">N</text>
<text x="341.67" y="761.80" font-size="13.4" textLength="6.26" lengthAdjust="spacingAndGlyphs" fill="#1e1e1e" stroke="#1e1e1e" stroke-width="0.3">V</text>
<text x="351.54" y="761.80" font-size="13.4" textLength="6.26" lengthAdjust="spacingAndGlyphs" fill="#1e1e1e" stroke="#1e1e1e" stroke-width="0.3">K</text>
<text x="362.07" y="761.80" font-size="13.4" textLength="6.26" lengthAdjust="spacingAndGlyphs" fill="#1e1e1e" stroke="#1e1e1e" stroke-width="0.3">A</text>
<text x="371.94" y="761.80" font-size="13.4" textLength="6.26" lengthAdjust="spacingAndGlyphs" fill="#1e1e1e" stroke="#1e1e1e" stroke-width="0.3">K</text>
<text x="384.30" y="761.80" font-size="13.4" textLength="2.61" lengthAdjust="spacingAndGlyphs" fill="#1e1e1e" stroke="#1e1e1e" stroke-width="0.3">I</text>
<text x="396.09" y="759.60" font-size="10.0" textLength="6.90" lengthAdjust="spacingAndGlyphs" fill="#222">31</text>
<text x="413.05" y="761.80" font-size="13.4" textLength="7.30" lengthAdjust="spacingAndGlyphs" fill="#1e1e1e" stroke="#1e1e1e" stroke-width="0.3">Q</text>
<text x="423.35" y="761.80" font-size="13.4" textLength="6.77" lengthAdjust="spacingAndGlyphs" fill="#1e1e1e" stroke="#1e1e1e" stroke-width="0.3">D</text>
<text x="433.64" y="761.80" font-size="13.4" textLength="6.26" lengthAdjust="spacingAndGlyphs" fill="#1e1e1e" stroke="#1e1e1e" stroke-width="0.3">K</text>
<text x="443.99" y="761.80" font-size="13.4" textLength="6.26" lengthAdjust="spacingAndGlyphs" fill="#1e1e1e" stroke="#1e1e1e" stroke-width="0.3">E</text>
<text x="453.97" y="761.80" font-size="13.4" textLength="7.30" lengthAdjust="spacingAndGlyphs" fill="#1e1e1e" stroke="#1e1e1e" stroke-width="0.3">G</text>
<text x="466.40" y="761.80" font-size="13.4" textLength="2.61" lengthAdjust="spacingAndGlyphs" fill="#1e1e1e" stroke="#1e1e1e" stroke-width="0.3">I</text>
<text x="474.63" y="761.80" font-size="13.4" textLength="6.26" lengthAdjust="spacingAndGlyphs" fill="#1e1e1e" stroke="#1e1e1e" stroke-width="0.3">P</text>
<text x="484.83" y="761.80" font-size="13.4" textLength="6.26" lengthAdjust="spacingAndGlyphs" fill="#1e1e1e" stroke="#1e1e1e" stroke-width="0.3">P</text>
<text x="494.75" y="761.80" font-size="13.4" textLength="6.77" lengthAdjust="spacingAndGlyphs" fill="#1e1e1e" stroke="#1e1e1e" stroke-width="0.3">D</text>
<text x="504.85" y="761.80" font-size="13.4" textLength="7.30" lengthAdjust="spacingAndGlyphs" fill="#1e1e1e" stroke="#1e1e1e" stroke-width="0.3">Q</text>
<text x="519.03" y="759.60" font-size="10.0" textLength="6.90" lengthAdjust="spacingAndGlyphs" fill="#222">41</text>
<text x="534.55" y="761.80" font-size="13.4" textLength="7.30" lengthAdjust="spacingAndGlyphs" fill="#1e1e1e" stroke="#1e1e1e" stroke-width="0.3">Q</text>
<text x="544.85" y="761.80" font-size="13.4" textLength="6.77" lengthAdjust="spacingAndGlyphs" fill="#1e1e1e" stroke="#1e1e1e" stroke-width="0.3">R</text>
<text x="555.76" y="761.80" font-size="13.4" textLength="5.22" lengthAdjust="spacingAndGlyphs" fill="#1e1e1e" stroke="#1e1e1e" stroke-width="0.3">L</text>
<text x="567.50" y="761.80" font-size="13.4" textLength="2.61" lengthAdjust="spacingAndGlyphs" fill="#1e1e1e" stroke="#1e1e1e" stroke-width="0.3">I</text>
<text x="575.94" y="761.80" font-size="13.4" textLength="5.73" lengthAdjust="spacingAndGlyphs" fill="#1e1e1e" stroke="#1e1e1e" stroke-width="0.3">F</text>
<text x="586.07" y="761.80" font-size="13.4" textLength="6.26" lengthAdjust="spacingAndGlyphs" fill="#1e1e1e" stroke="#1e1e1e" stroke-width="0.3">A</text>
<text x="595.87" y="761.80" font-size="13.4" textLength="7.30" lengthAdjust="spacingAndGlyphs" fill="#1e1e1e" stroke="#1e1e1e" stroke-width="0.3">G</text>
<text x="606.14" y="761.80" font-size="13.4" textLength="6.26" lengthAdjust="spacingAndGlyphs" fill="#1e1e1e" stroke="#1e1e1e" stroke-width="0.3">K</text>
<text x="616.15" y="761.80" font-size="13.4" textLength="7.30" lengthAdjust="spacingAndGlyphs" fill="#1e1e1e" stroke="#1e1e1e" stroke-width="0.3">Q</text>
<text x="627.16" y="761.80" font-size="13.4" textLength="5.22" lengthAdjust="spacingAndGlyphs" fill="#1e1e1e" stroke="#1e1e1e" stroke-width="0.3">L</text>
<text x="640.48" y="759.60" font-size="10.0" textLength="6.90" lengthAdjust="spacingAndGlyphs" fill="#222">51</text>
<text x="657.19" y="761.80" font-size="13.4" textLength="6.26" lengthAdjust="spacingAndGlyphs" fill="#1e1e1e" stroke="#1e1e1e" stroke-width="0.3">E</text>
<text x="667.15" y="761.80" font-size="13.4" textLength="6.77" lengthAdjust="spacingAndGlyphs" fill="#1e1e1e" stroke="#1e1e1e" stroke-width="0.3">D</text>
<text x="677.37" y="761.80" font-size="13.4" textLength="7.30" lengthAdjust="spacingAndGlyphs" fill="#1e1e1e" stroke="#1e1e1e" stroke-width="0.3">G</text>
<text x="687.55" y="761.80" font-size="13.4" textLength="6.77" lengthAdjust="spacingAndGlyphs" fill="#1e1e1e" stroke="#1e1e1e" stroke-width="0.3">R</text>
<text x="698.44" y="761.80" font-size="13.4" textLength="5.73" lengthAdjust="spacingAndGlyphs" fill="#1e1e1e" stroke="#1e1e1e" stroke-width="0.3">T</text>
<text x="708.66" y="761.80" font-size="13.4" textLength="5.22" lengthAdjust="spacingAndGlyphs" fill="#1e1e1e" stroke="#1e1e1e" stroke-width="0.3">L</text>
<text x="718.57" y="761.80" font-size="13.4" textLength="6.26" lengthAdjust="spacingAndGlyphs" fill="#1e1e1e" stroke="#1e1e1e" stroke-width="0.3">S</text>
<text x="728.35" y="761.80" font-size="13.4" textLength="6.77" lengthAdjust="spacingAndGlyphs" fill="#1e1e1e" stroke="#1e1e1e" stroke-width="0.3">D</text>
<text x="738.97" y="761.80" font-size="13.4" textLength="6.26" lengthAdjust="spacingAndGlyphs" fill="#1e1e1e" stroke="#1e1e1e" stroke-width="0.3">Y</text>
<text x="748.91" y="761.80" font-size="13.4" textLength="6.77" lengthAdjust="spacingAndGlyphs" fill="#1e1e1e" stroke="#1e1e1e" stroke-width="0.3">N</text>
<text x="762.75" y="759.60" font-size="10.0" textLength="6.90" lengthAdjust="spacingAndGlyphs" fill="#222">61</text>
<text x="781.40" y="761.80" font-size="13.4" textLength="2.61" lengthAdjust="spacingAndGlyphs" fill="#1e1e1e" stroke="#1e1e1e" stroke-width="0.3">I</text>
<text x="789.25" y="761.80" font-size="13.4" textLength="7.30" lengthAdjust="spacingAndGlyphs" fill="#1e1e1e" stroke="#1e1e1e" stroke-width="0.3">Q</text>
<text x="799.64" y="761.80" font-size="13.4" textLength="6.26" lengthAdjust="spacingAndGlyphs" fill="#1e1e1e" stroke="#1e1e1e" stroke-width="0.3">K</text>
<text x="809.99" y="761.80" font-size="13.4" textLength="6.26" lengthAdjust="spacingAndGlyphs" fill="#1e1e1e" stroke="#1e1e1e" stroke-width="0.3">E</text>
<text x="820.37" y="761.80" font-size="13.4" textLength="6.26" lengthAdjust="spacingAndGlyphs" fill="#1e1e1e" stroke="#1e1e1e" stroke-width="0.3">S</text>
<text x="830.84" y="761.80" font-size="13.4" textLength="5.73" lengthAdjust="spacingAndGlyphs" fill="#1e1e1e" stroke="#1e1e1e" stroke-width="0.3">T</text>
<text x="841.06" y="761.80" font-size="13.4" textLength="5.22" lengthAdjust="spacingAndGlyphs" fill="#1e1e1e" stroke="#1e1e1e" stroke-width="0.3">L</text>
<text x="850.71" y="761.80" font-size="13.4" textLength="6.77" lengthAdjust="spacingAndGlyphs" fill="#1e1e1e" stroke="#1e1e1e" stroke-width="0.3">H</text>
<text x="861.46" y="761.80" font-size="13.4" textLength="5.22" lengthAdjust="spacingAndGlyphs" fill="#1e1e1e" stroke="#1e1e1e" stroke-width="0.3">L</text>
<text x="871.37" y="761.80" font-size="13.4" textLength="6.26" lengthAdjust="spacingAndGlyphs" fill="#1e1e1e" stroke="#1e1e1e" stroke-width="0.3">V</text>
<text x="884.94" y="759.60" font-size="10.0" textLength="6.90" lengthAdjust="spacingAndGlyphs" fill="#222">71</text>
<text x="902.16" y="761.80" font-size="13.4" textLength="5.22" lengthAdjust="spacingAndGlyphs" fill="#1e1e1e" stroke="#1e1e1e" stroke-width="0.3">L</text>
<text x="911.65" y="761.80" font-size="13.4" textLength="6.77" lengthAdjust="spacingAndGlyphs" fill="#1e1e1e" stroke="#1e1e1e" stroke-width="0.3">R</text>
<text x="922.56" y="761.80" font-size="13.4" textLength="5.22" lengthAdjust="spacingAndGlyphs" fill="#1e1e1e" stroke="#1e1e1e" stroke-width="0.3">L</text>
<text x="932.05" y="761.80" font-size="13.4" textLength="6.77" lengthAdjust="spacingAndGlyphs" fill="#1e1e1e" stroke="#1e1e1e" stroke-width="0.3">R</text>
<text x="942.27" y="761.80" font-size="13.4" textLength="7.30" lengthAdjust="spacingAndGlyphs" fill="#1e1e1e" stroke="#1e1e1e" stroke-width="0.3">G</text>
<text x="952.47" y="761.80" font-size="13.4" textLength="7.30" lengthAdjust="spacingAndGlyphs" fill="#1e1e1e" stroke="#1e1e1e" stroke-width="0.3">G</text>
<rect x="69.0" y="644.5" width="51" height="148" fill="#000" opacity="0.10" rx="1"/>
<rect x="67.90" y="642.90" width="50.80" height="148.40" fill="#ffffff" stroke="#b8b8b8" stroke-width="0.8"/>
<rect x="68.30" y="645.80" width="50.00" height="19.80" fill="#0a8ccc"/>
<text x="71.50" y="659.80" font-size="11.0" textLength="40.27" lengthAdjust="spacingAndGlyphs" fill="#ffffff">spinsystems</text>
<text x="71.18" y="680.80" font-size="11.0" textLength="16.22" lengthAdjust="spacingAndGlyphs" fill="#333">hnca</text>
<text x="71.18" y="701.10" font-size="11.0" textLength="24.12" lengthAdjust="spacingAndGlyphs" fill="#333">hncacb</text>
<text x="71.18" y="721.40" font-size="11.0" textLength="24.12" lengthAdjust="spacingAndGlyphs" fill="#333">hncaco</text>
<text x="71.18" y="741.70" font-size="11.0" textLength="16.22" lengthAdjust="spacingAndGlyphs" fill="#333">hnco</text>
<text x="71.18" y="762.00" font-size="11.0" textLength="24.12" lengthAdjust="spacingAndGlyphs" fill="#333">hncoca</text>
<text x="71.18" y="782.30" font-size="11.0" textLength="32.02" lengthAdjust="spacingAndGlyphs" fill="#333">hncocacb</text>
<text x="21.93" y="528.30" font-size="22.3" textLength="12.94" lengthAdjust="spacingAndGlyphs" fill="#ff0000" stroke="#000" stroke-width="1.4" paint-order="stroke" stroke-linejoin="round">2</text>
<text x="34.97" y="528.30" font-size="22.3" textLength="7.28" lengthAdjust="spacingAndGlyphs" fill="#ff0000" stroke="#000" stroke-width="1.4" paint-order="stroke" stroke-linejoin="round">)</text>
<text x="802.06" y="382.00" font-size="22.0" textLength="12.20" lengthAdjust="spacingAndGlyphs" fill="#ff0000" stroke="#000" stroke-width="1.4" paint-order="stroke" stroke-linejoin="round">3</text>
<text x="814.47" y="382.00" font-size="22.0" textLength="7.54" lengthAdjust="spacingAndGlyphs" fill="#ff0000" stroke="#000" stroke-width="1.4" paint-order="stroke" stroke-linejoin="round">)</text>
<text x="1029.73" y="730.30" font-size="22.5" textLength="9.29" lengthAdjust="spacingAndGlyphs" fill="#ff0000" stroke="#000" stroke-width="1.4" paint-order="stroke" stroke-linejoin="round">1</text>
<text x="1041.77" y="730.30" font-size="22.5" textLength="7.54" lengthAdjust="spacingAndGlyphs" fill="#ff0000" stroke="#000" stroke-width="1.4" paint-order="stroke" stroke-linejoin="round">)</text>
<line x1="42.40" y1="533.80" x2="68.50" y2="601.00" stroke="#000" stroke-width="2.0"/>
<path d="M73.2,611.9 L61.9,603.0 L74.8,598.4 Z" fill="#000"/>
<line x1="793.50" y1="374.70" x2="711.00" y2="376.10" stroke="#000" stroke-width="1.3"/>
<path d="M704.3,376.2 L713.9,372.0 L713.9,380.7 Z" fill="#000"/></svg>
</body></html>
